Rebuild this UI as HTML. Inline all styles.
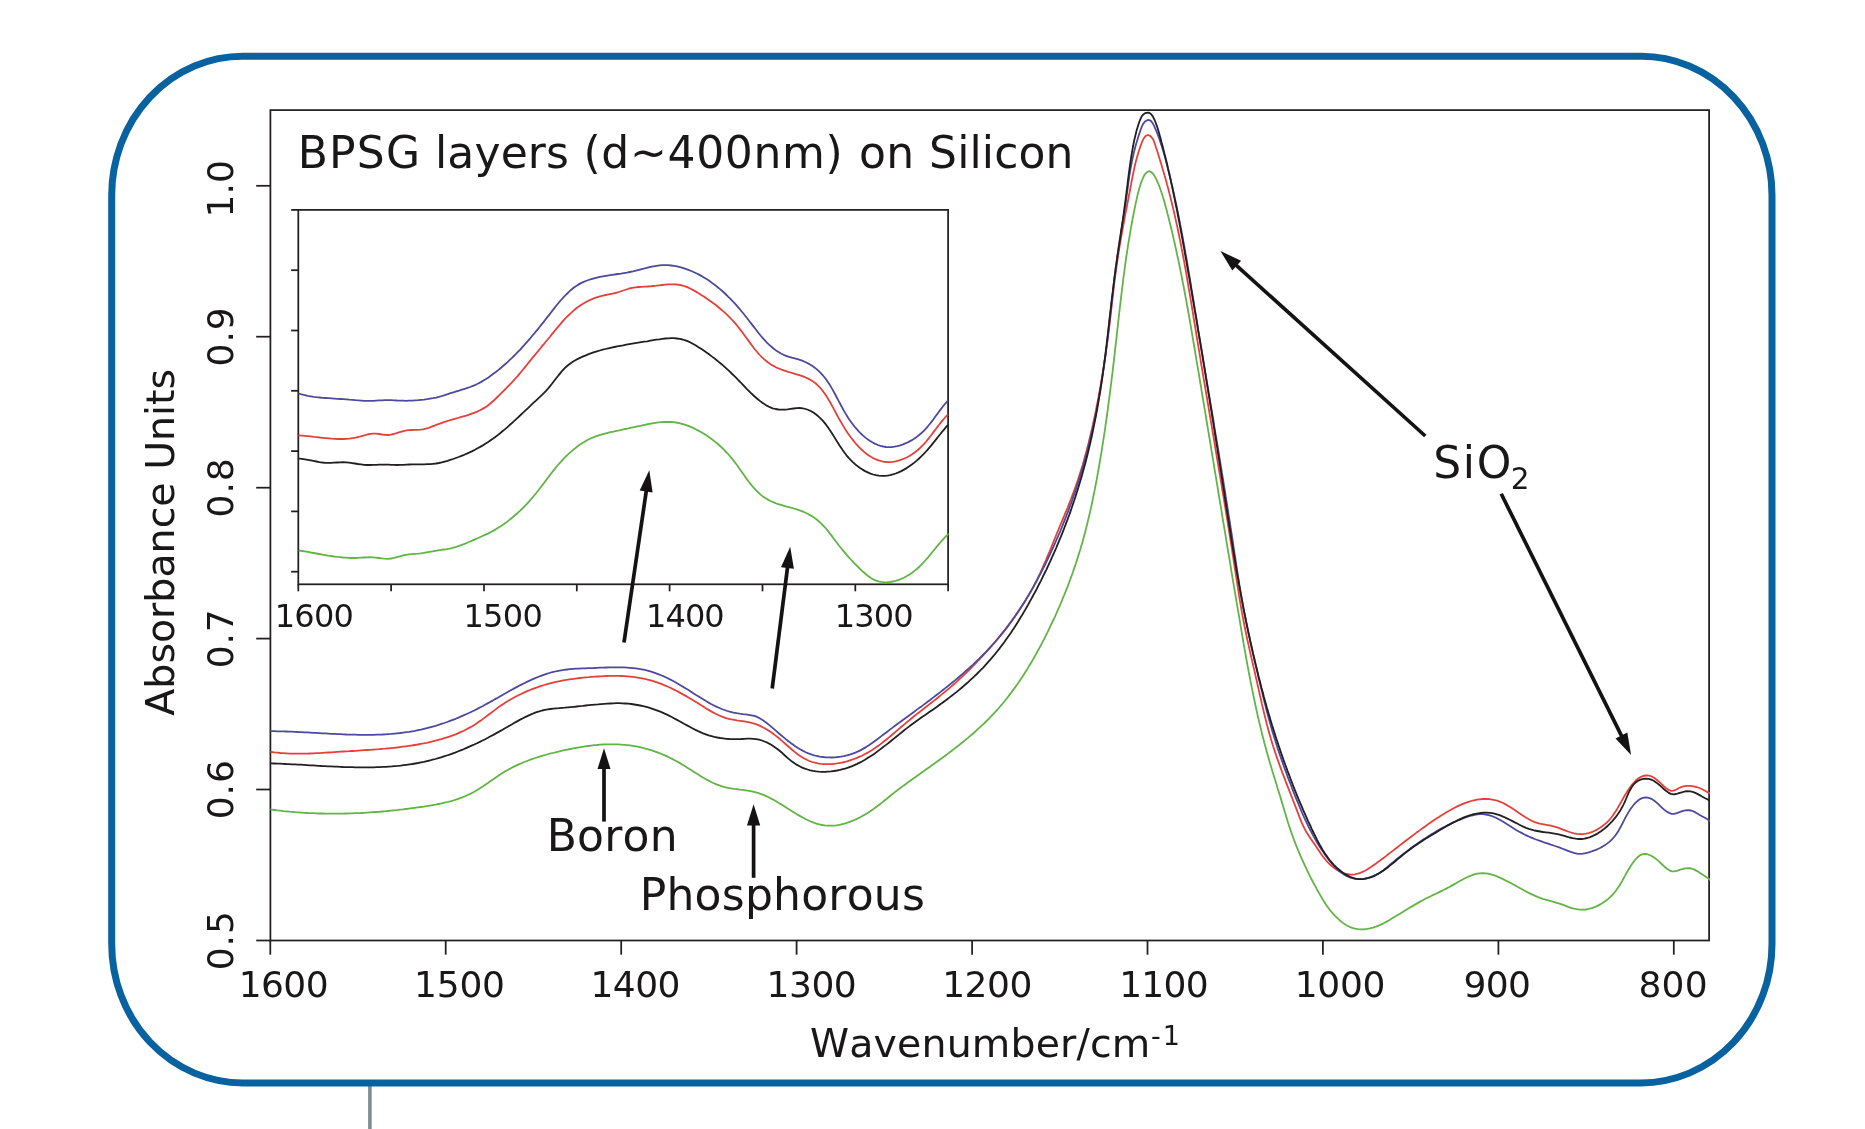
<!DOCTYPE html>
<html lang="en"><head><meta charset="utf-8"><title>BPSG layers on Silicon - IR absorbance</title>
<style>html,body{margin:0;padding:0;background:#fff;}body{width:1865px;height:1129px;overflow:hidden;}svg{display:block;will-change:transform;}text{font-family:"DejaVu Sans","Liberation Sans",sans-serif;fill:#1a1718;font-kerning:none;}</style></head><body>
<svg width="1865" height="1129" viewBox="0 0 1865 1129">
<rect width="1865" height="1129" fill="#fff"/>
<line x1="369.9" y1="1084" x2="369.9" y2="1129" stroke="#7f8c94" stroke-width="3.6"/>
<rect x="111.7" y="56.3" width="1660.3" height="1026.6" rx="131" ry="139" fill="none" stroke="#0862a0" stroke-width="7"/>
<defs><clipPath id="cm"><rect x="270.4" y="110.1" width="1439.6" height="830.4"/></clipPath><clipPath id="ci"><rect x="298.3" y="209.9" width="650.7" height="374.4"/></clipPath></defs>
<g stroke="#231f20" stroke-width="1.75" fill="none">
<rect x="270.4" y="110.1" width="1438.7" height="830.4"/>
<line x1="270.3" y1="940.5" x2="270.3" y2="954.7"/>
<line x1="445.7" y1="940.5" x2="445.7" y2="954.7"/>
<line x1="621.2" y1="940.5" x2="621.2" y2="954.7"/>
<line x1="796.6" y1="940.5" x2="796.6" y2="954.7"/>
<line x1="972.1" y1="940.5" x2="972.1" y2="954.7"/>
<line x1="1147.5" y1="940.5" x2="1147.5" y2="954.7"/>
<line x1="1322.9" y1="940.5" x2="1322.9" y2="954.7"/>
<line x1="1498.4" y1="940.5" x2="1498.4" y2="954.7"/>
<line x1="1673.8" y1="940.5" x2="1673.8" y2="954.7"/>
<line x1="256.2" y1="940.5" x2="270.4" y2="940.5"/>
<line x1="256.2" y1="789.5" x2="270.4" y2="789.5"/>
<line x1="256.2" y1="638.6" x2="270.4" y2="638.6"/>
<line x1="256.2" y1="487.7" x2="270.4" y2="487.7"/>
<line x1="256.2" y1="336.7" x2="270.4" y2="336.7"/>
<line x1="256.2" y1="185.8" x2="270.4" y2="185.8"/>
</g>
<g fill="none" stroke-width="1.8" stroke-linejoin="round" stroke-linecap="round" clip-path="url(#cm)">
<path stroke="#62b445" d="M268.4,809.2 L271.4,809.6 L274.4,810.0 L277.4,810.4 L280.4,810.7 L283.4,811.1 L286.3,811.4 L289.3,811.7 L292.3,811.9 L295.3,812.2 L298.3,812.4 L301.3,812.6 L304.3,812.8 L307.3,813.0 L310.3,813.1 L313.3,813.2 L316.3,813.4 L319.3,813.5 L322.2,813.5 L325.2,813.6 L328.2,813.6 L331.2,813.7 L334.2,813.7 L337.2,813.7 L340.2,813.6 L343.2,813.6 L346.1,813.5 L349.1,813.4 L352.1,813.3 L355.1,813.2 L358.1,813.1 L361.1,813.0 L364.1,812.8 L367.0,812.6 L370.0,812.4 L373.0,812.2 L376.0,812.0 L379.0,811.8 L382.0,811.5 L384.9,811.3 L387.9,811.0 L390.9,810.7 L393.9,810.4 L396.9,810.1 L399.9,809.7 L402.8,809.4 L405.8,809.0 L408.8,808.6 L411.8,808.2 L414.8,807.8 L417.8,807.4 L420.8,807.0 L423.7,806.6 L426.7,806.1 L429.7,805.6 L432.7,805.1 L435.6,804.6 L438.6,804.0 L441.5,803.4 L444.5,802.7 L447.4,802.0 L450.3,801.3 L453.1,800.5 L456.0,799.6 L458.8,798.6 L461.6,797.6 L464.4,796.5 L467.1,795.3 L469.8,794.1 L472.5,792.7 L475.1,791.3 L477.7,789.7 L480.3,788.1 L482.8,786.5 L485.3,784.7 L487.9,783.0 L490.4,781.2 L492.9,779.4 L495.4,777.7 L497.9,776.0 L500.4,774.3 L503.0,772.7 L505.6,771.1 L508.2,769.7 L510.8,768.2 L513.4,766.9 L516.1,765.6 L518.8,764.4 L521.5,763.2 L524.3,762.0 L527.0,761.0 L529.8,759.9 L532.6,758.9 L535.4,758.0 L538.2,757.1 L541.0,756.2 L543.9,755.3 L546.8,754.5 L549.7,753.7 L552.6,753.0 L555.5,752.3 L558.4,751.6 L561.3,750.9 L564.3,750.2 L567.2,749.6 L570.2,749.0 L573.2,748.4 L576.2,747.8 L579.2,747.3 L582.1,746.8 L585.1,746.4 L588.1,746.0 L591.1,745.6 L594.2,745.2 L597.2,745.0 L600.2,744.7 L603.2,744.5 L606.2,744.4 L609.2,744.3 L612.2,744.3 L615.2,744.3 L618.1,744.4 L621.1,744.6 L624.1,744.8 L627.0,745.1 L630.0,745.4 L632.9,745.8 L635.9,746.3 L638.8,746.9 L641.7,747.6 L644.6,748.3 L647.4,749.1 L650.3,749.9 L653.1,750.8 L656.0,751.8 L658.8,752.9 L661.5,754.0 L664.3,755.2 L667.1,756.4 L669.8,757.7 L672.5,759.1 L675.1,760.5 L677.8,761.9 L680.4,763.4 L683.0,765.0 L685.6,766.6 L688.1,768.2 L690.7,769.8 L693.2,771.4 L695.7,773.0 L698.3,774.6 L700.8,776.2 L703.4,777.7 L705.9,779.2 L708.5,780.6 L711.2,782.0 L713.8,783.2 L716.5,784.4 L719.3,785.4 L722.1,786.3 L724.9,787.1 L727.8,787.8 L730.8,788.3 L733.7,788.8 L736.8,789.2 L739.8,789.6 L742.8,789.9 L745.8,790.3 L748.9,790.8 L751.9,791.4 L754.8,792.1 L757.7,792.9 L760.6,793.8 L763.4,794.9 L766.2,796.1 L769.0,797.5 L771.7,798.9 L774.4,800.3 L777.1,801.9 L779.7,803.5 L782.4,805.1 L785.0,806.7 L787.6,808.4 L790.2,810.1 L792.8,811.7 L795.4,813.3 L798.0,814.9 L800.6,816.4 L803.2,817.8 L805.8,819.2 L808.5,820.5 L811.1,821.7 L813.8,822.7 L816.5,823.6 L819.3,824.4 L822.0,825.0 L824.8,825.4 L827.7,825.7 L830.6,825.7 L833.5,825.6 L836.4,825.3 L839.4,824.8 L842.3,824.1 L845.3,823.3 L848.2,822.4 L851.1,821.3 L854.0,820.2 L856.9,818.9 L859.7,817.5 L862.4,816.0 L865.1,814.5 L867.7,812.9 L870.2,811.3 L872.7,809.6 L875.1,807.8 L877.5,806.0 L879.9,804.2 L882.2,802.4 L884.5,800.5 L886.8,798.7 L889.1,796.8 L891.3,795.0 L893.6,793.1 L896.0,791.3 L898.3,789.5 L900.7,787.7 L903.1,785.9 L905.5,784.2 L907.9,782.4 L910.3,780.7 L912.7,779.0 L915.2,777.2 L917.6,775.5 L920.1,773.8 L922.5,772.0 L925.0,770.3 L927.4,768.5 L929.9,766.8 L932.3,765.0 L934.8,763.3 L937.2,761.5 L939.7,759.7 L942.1,758.0 L944.5,756.2 L947.0,754.4 L949.4,752.5 L951.8,750.7 L954.2,748.9 L956.5,747.0 L958.9,745.2 L961.3,743.3 L963.6,741.4 L965.9,739.5 L968.3,737.6 L970.5,735.6 L972.8,733.7 L975.1,731.7 L977.3,729.7 L979.5,727.7 L981.7,725.6 L983.9,723.6 L986.0,721.5 L988.2,719.4 L990.3,717.2 L992.3,715.1 L994.4,712.9 L996.4,710.7 L998.4,708.5 L1000.3,706.2 L1002.3,704.0 L1004.2,701.7 L1006.1,699.3 L1007.9,697.0 L1009.7,694.6 L1011.5,692.3 L1013.3,689.9 L1015.1,687.4 L1016.8,685.0 L1018.5,682.5 L1020.2,680.0 L1021.9,677.6 L1023.5,675.0 L1025.1,672.5 L1026.7,670.0 L1028.3,667.4 L1029.8,664.8 L1031.4,662.2 L1032.9,659.6 L1034.4,657.0 L1035.9,654.4 L1037.3,651.8 L1038.8,649.1 L1040.2,646.5 L1041.6,643.8 L1043.0,641.1 L1044.4,638.5 L1045.7,635.8 L1047.1,633.1 L1048.4,630.4 L1049.7,627.7 L1051.0,624.9 L1052.3,622.2 L1053.6,619.5 L1054.9,616.8 L1056.1,614.0 L1057.3,611.3 L1058.5,608.5 L1059.7,605.8 L1060.9,603.0 L1062.1,600.2 L1063.2,597.4 L1064.4,594.7 L1065.5,591.9 L1066.6,589.1 L1067.7,586.3 L1068.7,583.5 L1069.8,580.7 L1070.8,577.9 L1071.9,575.0 L1072.9,572.2 L1073.8,569.4 L1074.8,566.5 L1075.8,563.7 L1076.7,560.9 L1077.6,558.0 L1078.5,555.2 L1079.4,552.3 L1080.3,549.4 L1081.1,546.6 L1082.0,543.7 L1082.8,540.8 L1083.6,538.0 L1084.4,535.1 L1085.1,532.2 L1085.9,529.3 L1086.6,526.4 L1087.3,523.5 L1088.0,520.6 L1088.7,517.7 L1089.4,514.8 L1090.1,511.9 L1090.7,509.0 L1091.4,506.1 L1092.0,503.1 L1092.6,500.2 L1093.2,497.3 L1093.8,494.3 L1094.4,491.4 L1095.0,488.5 L1095.5,485.5 L1096.1,482.6 L1096.7,479.7 L1097.2,476.7 L1097.7,473.8 L1098.3,470.8 L1098.8,467.9 L1099.3,464.9 L1099.8,461.9 L1100.3,459.0 L1100.8,456.0 L1101.3,453.1 L1101.8,450.1 L1102.2,447.1 L1102.7,444.2 L1103.2,441.2 L1103.6,438.2 L1104.1,435.2 L1104.5,432.3 L1105.0,429.3 L1105.4,426.3 L1105.8,423.3 L1106.3,420.3 L1106.7,417.4 L1107.1,414.4 L1107.5,411.4 L1107.9,408.4 L1108.3,405.4 L1108.7,402.4 L1109.1,399.5 L1109.5,396.5 L1109.9,393.5 L1110.3,390.5 L1110.6,387.5 L1111.0,384.5 L1111.4,381.5 L1111.7,378.6 L1112.1,375.6 L1112.5,372.6 L1112.8,369.6 L1113.2,366.6 L1113.5,363.6 L1113.9,360.6 L1114.2,357.7 L1114.6,354.7 L1114.9,351.7 L1115.2,348.7 L1115.6,345.7 L1115.9,342.7 L1116.3,339.8 L1116.6,336.8 L1116.9,333.8 L1117.2,330.8 L1117.6,327.9 L1117.9,324.9 L1118.2,321.9 L1118.6,318.9 L1118.9,316.0 L1119.2,313.0 L1119.6,310.0 L1119.9,307.0 L1120.3,304.1 L1120.6,301.1 L1121.0,298.1 L1121.3,295.2 L1121.7,292.2 L1122.0,289.2 L1122.4,286.3 L1122.8,283.3 L1123.1,280.4 L1123.5,277.4 L1123.9,274.4 L1124.3,271.5 L1124.7,268.5 L1125.1,265.6 L1125.5,262.6 L1125.9,259.7 L1126.3,256.7 L1126.8,253.8 L1127.2,250.8 L1127.7,247.9 L1128.1,244.9 L1128.6,242.0 L1129.1,239.0 L1129.6,236.1 L1130.1,233.1 L1130.6,230.1 L1131.1,227.2 L1131.6,224.2 L1132.2,221.3 L1132.7,218.3 L1133.3,215.3 L1133.9,212.4 L1134.5,209.4 L1135.1,206.4 L1135.7,203.4 L1136.4,200.4 L1137.0,197.4 L1137.7,194.5 L1138.5,191.5 L1139.3,188.6 L1140.1,185.7 L1141.0,182.9 L1142.1,180.2 L1143.2,177.5 L1144.5,174.9 L1146.5,172.5 L1149.0,171.2 L1151.5,172.1 L1153.6,174.5 L1155.3,177.4 L1156.7,180.1 L1157.9,182.8 L1159.0,185.5 L1160.0,188.2 L1161.0,191.0 L1161.9,193.8 L1162.8,196.6 L1163.7,199.5 L1164.5,202.3 L1165.3,205.2 L1166.1,208.2 L1166.9,211.1 L1167.6,214.0 L1168.4,217.0 L1169.1,219.9 L1169.8,222.8 L1170.6,225.7 L1171.3,228.7 L1172.0,231.6 L1172.7,234.5 L1173.3,237.5 L1174.0,240.4 L1174.7,243.3 L1175.3,246.3 L1176.0,249.2 L1176.6,252.1 L1177.2,255.1 L1177.9,258.0 L1178.5,260.9 L1179.1,263.8 L1179.7,266.8 L1180.3,269.7 L1180.9,272.7 L1181.5,275.6 L1182.1,278.5 L1182.6,281.5 L1183.2,284.4 L1183.8,287.4 L1184.3,290.3 L1184.9,293.2 L1185.4,296.2 L1186.0,299.1 L1186.5,302.1 L1187.0,305.0 L1187.6,308.0 L1188.1,311.0 L1188.6,313.9 L1189.2,316.9 L1189.7,319.8 L1190.2,322.8 L1190.7,325.7 L1191.2,328.7 L1191.7,331.7 L1192.2,334.6 L1192.7,337.6 L1193.2,340.6 L1193.7,343.5 L1194.2,346.5 L1194.7,349.4 L1195.2,352.4 L1195.7,355.4 L1196.2,358.3 L1196.7,361.3 L1197.2,364.3 L1197.7,367.2 L1198.2,370.2 L1198.7,373.1 L1199.2,376.1 L1199.7,379.1 L1200.2,382.0 L1200.7,385.0 L1201.2,387.9 L1201.6,390.9 L1202.1,393.9 L1202.6,396.8 L1203.1,399.8 L1203.6,402.7 L1204.1,405.7 L1204.6,408.7 L1205.1,411.6 L1205.6,414.6 L1206.1,417.5 L1206.5,420.5 L1207.0,423.5 L1207.5,426.4 L1208.0,429.4 L1208.5,432.3 L1209.0,435.3 L1209.5,438.2 L1210.0,441.2 L1210.5,444.2 L1210.9,447.1 L1211.4,450.1 L1211.9,453.0 L1212.4,456.0 L1212.9,458.9 L1213.4,461.9 L1213.9,464.9 L1214.4,467.8 L1214.8,470.8 L1215.3,473.7 L1215.8,476.7 L1216.3,479.6 L1216.8,482.6 L1217.3,485.5 L1217.8,488.5 L1218.2,491.5 L1218.7,494.4 L1219.2,497.4 L1219.7,500.3 L1220.2,503.3 L1220.7,506.2 L1221.2,509.2 L1221.7,512.2 L1222.1,515.1 L1222.6,518.1 L1223.1,521.0 L1223.6,524.0 L1224.1,526.9 L1224.6,529.9 L1225.1,532.8 L1225.6,535.8 L1226.1,538.8 L1226.5,541.7 L1227.0,544.7 L1227.5,547.6 L1228.0,550.6 L1228.5,553.5 L1229.0,556.5 L1229.5,559.5 L1230.0,562.4 L1230.5,565.4 L1231.0,568.3 L1231.4,571.3 L1231.9,574.2 L1232.4,577.2 L1232.9,580.2 L1233.4,583.1 L1233.9,586.1 L1234.4,589.0 L1234.9,592.0 L1235.4,595.0 L1235.9,597.9 L1236.4,600.9 L1236.9,603.8 L1237.4,606.8 L1237.9,609.8 L1238.4,612.7 L1238.9,615.7 L1239.4,618.6 L1239.9,621.6 L1240.4,624.6 L1240.9,627.5 L1241.4,630.5 L1241.9,633.4 L1242.4,636.4 L1242.9,639.4 L1243.4,642.3 L1243.9,645.3 L1244.4,648.2 L1245.0,651.2 L1245.5,654.2 L1246.0,657.1 L1246.6,660.1 L1247.1,663.0 L1247.6,666.0 L1248.2,668.9 L1248.7,671.9 L1249.3,674.8 L1249.9,677.8 L1250.4,680.7 L1251.0,683.7 L1251.6,686.6 L1252.2,689.6 L1252.8,692.5 L1253.4,695.5 L1254.0,698.4 L1254.6,701.3 L1255.2,704.3 L1255.9,707.2 L1256.5,710.2 L1257.2,713.1 L1257.8,716.0 L1258.5,718.9 L1259.2,721.9 L1259.9,724.8 L1260.6,727.7 L1261.3,730.6 L1262.0,733.6 L1262.7,736.5 L1263.5,739.4 L1264.2,742.3 L1265.0,745.2 L1265.8,748.1 L1266.6,751.0 L1267.4,753.9 L1268.2,756.8 L1269.0,759.7 L1269.8,762.6 L1270.7,765.5 L1271.6,768.4 L1272.4,771.2 L1273.3,774.1 L1274.2,777.0 L1275.1,779.9 L1276.0,782.7 L1276.9,785.6 L1277.7,788.5 L1278.6,791.3 L1279.5,794.2 L1280.4,797.0 L1281.2,799.9 L1282.1,802.7 L1282.9,805.5 L1283.8,808.4 L1284.6,811.2 L1285.5,814.0 L1286.3,816.9 L1287.2,819.7 L1288.0,822.5 L1288.9,825.3 L1289.9,828.1 L1290.8,830.9 L1291.8,833.7 L1292.8,836.5 L1293.8,839.3 L1294.9,842.1 L1295.9,844.8 L1297.0,847.6 L1298.2,850.4 L1299.3,853.2 L1300.5,855.9 L1301.7,858.7 L1303.0,861.4 L1304.2,864.2 L1305.5,866.9 L1306.8,869.6 L1308.1,872.3 L1309.5,875.1 L1310.8,877.8 L1312.2,880.5 L1313.6,883.2 L1315.1,885.9 L1316.5,888.6 L1318.0,891.3 L1319.5,893.9 L1321.1,896.6 L1322.6,899.2 L1324.2,901.8 L1325.9,904.4 L1327.6,906.9 L1329.4,909.3 L1331.3,911.7 L1333.2,913.9 L1335.3,916.1 L1337.4,918.2 L1339.6,920.2 L1341.9,922.1 L1344.3,923.9 L1346.9,925.5 L1349.5,926.8 L1352.2,927.9 L1355.0,928.7 L1357.9,929.2 L1360.9,929.4 L1363.9,929.3 L1366.9,928.9 L1369.9,928.4 L1372.8,927.6 L1375.8,926.7 L1378.6,925.6 L1381.4,924.4 L1384.1,923.0 L1386.7,921.6 L1389.2,920.2 L1391.8,918.6 L1394.3,917.1 L1396.9,915.5 L1399.5,914.0 L1402.0,912.4 L1404.6,910.8 L1407.2,909.2 L1409.8,907.6 L1412.4,906.1 L1415.0,904.6 L1417.6,903.1 L1420.2,901.6 L1422.8,900.2 L1425.4,898.8 L1428.0,897.5 L1430.7,896.2 L1433.3,894.9 L1436.0,893.7 L1438.7,892.4 L1441.3,891.1 L1444.0,889.8 L1446.7,888.4 L1449.4,887.0 L1452.2,885.4 L1454.9,883.9 L1457.6,882.3 L1460.4,880.7 L1463.1,879.2 L1465.9,877.8 L1468.7,876.5 L1471.5,875.3 L1474.2,874.4 L1477.0,873.7 L1479.8,873.3 L1482.6,873.1 L1485.4,873.3 L1488.1,873.7 L1490.9,874.3 L1493.7,875.2 L1496.5,876.2 L1499.2,877.3 L1502.0,878.6 L1504.7,880.0 L1507.5,881.4 L1510.2,882.8 L1512.9,884.3 L1515.6,885.8 L1518.4,887.3 L1521.1,888.8 L1523.8,890.3 L1526.5,891.7 L1529.2,893.1 L1531.9,894.4 L1534.6,895.6 L1537.4,896.8 L1540.1,897.8 L1542.8,898.8 L1545.6,899.6 L1548.3,900.4 L1551.1,901.2 L1553.9,901.9 L1556.7,902.8 L1559.5,903.7 L1562.4,904.7 L1565.2,905.7 L1568.1,906.8 L1571.0,907.8 L1573.9,908.6 L1576.8,909.2 L1579.8,909.6 L1582.8,909.7 L1585.8,909.5 L1588.7,908.9 L1591.7,908.2 L1594.6,907.1 L1597.5,905.9 L1600.2,904.4 L1602.9,902.8 L1605.5,901.0 L1607.9,899.1 L1610.2,897.1 L1612.3,895.0 L1614.2,892.8 L1616.0,890.6 L1617.6,888.3 L1619.2,886.0 L1620.7,883.5 L1622.1,881.1 L1623.5,878.5 L1625.0,875.9 L1626.4,873.2 L1628.0,870.5 L1629.7,867.7 L1631.4,864.9 L1633.4,862.1 L1635.4,859.5 L1637.5,857.3 L1639.8,855.5 L1642.1,854.4 L1644.5,854.0 L1647.0,854.2 L1649.6,855.0 L1652.1,856.3 L1654.7,857.9 L1657.2,859.9 L1659.7,862.2 L1662.1,864.5 L1664.5,866.7 L1666.9,868.8 L1669.4,870.3 L1671.8,871.3 L1674.4,871.4 L1677.0,870.8 L1679.7,869.9 L1682.5,869.0 L1685.4,868.4 L1688.4,868.1 L1691.4,868.5 L1694.3,869.6 L1697.2,871.1 L1700.0,872.9 L1702.7,874.7 L1705.2,876.3 L1707.6,877.9 L1709.7,879.5 L1711.0,880.7"/>
<path stroke="#e6403a" d="M268.4,751.6 L271.4,752.0 L274.4,752.4 L277.4,752.7 L280.4,753.0 L283.4,753.2 L286.4,753.4 L289.4,753.6 L292.4,753.6 L295.4,753.7 L298.4,753.7 L301.3,753.7 L304.3,753.7 L307.3,753.6 L310.3,753.5 L313.3,753.4 L316.3,753.2 L319.3,753.1 L322.3,752.9 L325.3,752.7 L328.3,752.5 L331.3,752.3 L334.3,752.1 L337.3,751.9 L340.3,751.7 L343.2,751.5 L346.2,751.3 L349.2,751.2 L352.2,751.0 L355.2,750.8 L358.2,750.6 L361.2,750.4 L364.1,750.2 L367.1,750.0 L370.1,749.8 L373.1,749.6 L376.1,749.4 L379.1,749.2 L382.0,748.9 L385.0,748.7 L388.0,748.4 L391.0,748.1 L393.9,747.8 L396.9,747.5 L399.9,747.1 L402.9,746.7 L405.8,746.3 L408.8,745.9 L411.8,745.5 L414.8,745.0 L417.7,744.5 L420.7,743.9 L423.7,743.4 L426.6,742.8 L429.6,742.1 L432.6,741.4 L435.5,740.7 L438.4,739.9 L441.3,739.1 L444.2,738.2 L447.1,737.3 L450.0,736.4 L452.8,735.3 L455.6,734.3 L458.4,733.1 L461.1,731.9 L463.8,730.7 L466.5,729.3 L469.1,727.9 L471.7,726.5 L474.3,724.9 L476.8,723.3 L479.2,721.6 L481.7,719.9 L484.1,718.1 L486.5,716.3 L488.8,714.5 L491.2,712.7 L493.6,710.9 L496.0,709.1 L498.4,707.3 L500.9,705.6 L503.4,703.9 L505.9,702.3 L508.4,700.7 L511.0,699.2 L513.7,697.8 L516.3,696.3 L519.0,695.0 L521.7,693.7 L524.4,692.4 L527.2,691.2 L530.0,690.0 L532.8,688.9 L535.6,687.9 L538.5,686.9 L541.4,685.9 L544.3,685.0 L547.2,684.2 L550.1,683.4 L553.0,682.6 L556.0,681.9 L558.9,681.3 L561.9,680.7 L564.9,680.2 L567.9,679.7 L570.9,679.2 L573.9,678.8 L576.9,678.4 L579.9,678.0 L582.9,677.7 L585.9,677.4 L588.9,677.2 L591.9,676.9 L594.9,676.7 L597.9,676.5 L600.8,676.3 L603.8,676.1 L606.8,676.0 L609.8,675.9 L612.7,675.9 L615.7,675.9 L618.6,675.9 L621.6,676.0 L624.5,676.1 L627.4,676.3 L630.4,676.6 L633.3,676.9 L636.2,677.3 L639.1,677.8 L642.0,678.3 L644.8,678.9 L647.7,679.6 L650.6,680.3 L653.4,681.2 L656.2,682.1 L659.1,683.1 L661.9,684.2 L664.7,685.3 L667.5,686.5 L670.3,687.8 L673.0,689.1 L675.8,690.5 L678.5,691.9 L681.2,693.4 L683.9,694.9 L686.6,696.4 L689.3,698.0 L692.0,699.6 L694.6,701.2 L697.3,702.8 L699.9,704.5 L702.5,706.1 L705.1,707.8 L707.7,709.4 L710.3,710.9 L712.9,712.4 L715.5,713.7 L718.2,715.0 L720.8,716.2 L723.4,717.2 L726.1,718.1 L728.8,718.8 L731.5,719.4 L734.3,719.9 L737.0,720.4 L739.9,720.8 L742.7,721.2 L745.6,721.7 L748.5,722.2 L751.4,722.9 L754.3,723.7 L757.2,724.7 L760.0,725.9 L762.8,727.3 L765.6,728.8 L768.3,730.4 L770.9,732.1 L773.5,734.0 L776.0,735.9 L778.4,737.8 L780.8,739.9 L783.1,741.9 L785.5,744.0 L787.8,746.0 L790.1,748.0 L792.4,750.0 L794.7,751.9 L797.0,753.7 L799.4,755.4 L801.8,757.0 L804.3,758.5 L806.8,759.8 L809.4,761.0 L812.1,762.0 L814.9,762.7 L817.7,763.4 L820.6,763.8 L823.5,764.1 L826.5,764.2 L829.5,764.2 L832.6,764.0 L835.6,763.7 L838.7,763.2 L841.7,762.6 L844.7,762.0 L847.7,761.2 L850.7,760.2 L853.6,759.2 L856.4,758.1 L859.2,756.9 L861.9,755.7 L864.6,754.3 L867.2,752.9 L869.7,751.4 L872.2,749.9 L874.7,748.3 L877.1,746.6 L879.5,744.9 L881.8,743.1 L884.1,741.3 L886.4,739.5 L888.7,737.6 L891.0,735.7 L893.2,733.8 L895.5,731.9 L897.8,729.9 L900.0,728.0 L902.3,726.0 L904.6,724.1 L906.9,722.1 L909.3,720.2 L911.7,718.2 L914.0,716.3 L916.4,714.4 L918.9,712.5 L921.3,710.6 L923.7,708.7 L926.2,706.8 L928.6,704.9 L931.0,703.0 L933.4,701.1 L935.9,699.2 L938.2,697.3 L940.6,695.4 L943.0,693.4 L945.3,691.5 L947.6,689.6 L949.9,687.7 L952.1,685.7 L954.4,683.8 L956.6,681.8 L958.7,679.9 L960.9,677.9 L963.0,675.9 L965.1,673.9 L967.2,671.9 L969.3,669.8 L971.3,667.8 L973.4,665.7 L975.4,663.6 L977.4,661.5 L979.4,659.4 L981.4,657.2 L983.4,655.1 L985.4,652.9 L987.4,650.6 L989.4,648.4 L991.4,646.1 L993.3,643.8 L995.3,641.5 L997.2,639.2 L999.2,636.8 L1001.1,634.5 L1003.0,632.1 L1004.9,629.7 L1006.8,627.2 L1008.6,624.8 L1010.5,622.3 L1012.3,619.9 L1014.1,617.4 L1015.8,614.9 L1017.6,612.4 L1019.3,609.8 L1021.0,607.3 L1022.7,604.7 L1024.3,602.2 L1025.9,599.6 L1027.5,597.0 L1029.0,594.4 L1030.6,591.8 L1032.0,589.1 L1033.5,586.5 L1034.9,583.9 L1036.2,581.2 L1037.6,578.6 L1038.8,575.9 L1040.1,573.3 L1041.3,570.6 L1042.6,567.9 L1043.7,565.2 L1044.9,562.5 L1046.1,559.8 L1047.2,557.1 L1048.3,554.4 L1049.5,551.7 L1050.6,549.0 L1051.7,546.3 L1052.8,543.5 L1053.9,540.8 L1055.0,538.0 L1056.1,535.3 L1057.2,532.5 L1058.4,529.8 L1059.5,527.0 L1060.7,524.2 L1061.9,521.4 L1063.0,518.7 L1064.2,515.9 L1065.3,513.1 L1066.5,510.3 L1067.7,507.5 L1068.8,504.6 L1069.9,501.8 L1071.0,499.0 L1072.1,496.2 L1073.2,493.3 L1074.2,490.5 L1075.2,487.7 L1076.2,484.8 L1077.2,482.0 L1078.2,479.1 L1079.1,476.3 L1080.0,473.4 L1080.9,470.5 L1081.8,467.7 L1082.7,464.8 L1083.5,461.9 L1084.3,459.0 L1085.1,456.1 L1085.9,453.2 L1086.7,450.3 L1087.4,447.4 L1088.2,444.5 L1088.9,441.6 L1089.6,438.7 L1090.3,435.8 L1091.0,432.9 L1091.7,430.0 L1092.3,427.1 L1093.0,424.2 L1093.6,421.2 L1094.2,418.3 L1094.9,415.4 L1095.5,412.4 L1096.1,409.5 L1096.6,406.6 L1097.2,403.6 L1097.8,400.7 L1098.4,397.7 L1098.9,394.8 L1099.5,391.8 L1100.0,388.9 L1100.5,385.9 L1101.0,383.0 L1101.5,380.0 L1102.0,377.1 L1102.5,374.1 L1103.0,371.1 L1103.5,368.2 L1104.0,365.2 L1104.4,362.3 L1104.9,359.3 L1105.3,356.3 L1105.8,353.3 L1106.2,350.4 L1106.6,347.4 L1107.0,344.4 L1107.4,341.5 L1107.8,338.5 L1108.2,335.5 L1108.6,332.5 L1108.9,329.6 L1109.3,326.6 L1109.7,323.6 L1110.0,320.6 L1110.4,317.7 L1110.7,314.7 L1111.0,311.7 L1111.4,308.7 L1111.7,305.8 L1112.0,302.8 L1112.4,299.8 L1112.7,296.8 L1113.1,293.9 L1113.4,290.9 L1113.7,287.9 L1114.1,285.0 L1114.5,282.0 L1114.8,279.0 L1115.2,276.0 L1115.6,273.1 L1116.0,270.1 L1116.4,267.1 L1116.8,264.2 L1117.3,261.2 L1117.7,258.3 L1118.2,255.3 L1118.6,252.3 L1119.1,249.4 L1119.6,246.4 L1120.1,243.5 L1120.6,240.5 L1121.1,237.5 L1121.6,234.6 L1122.2,231.6 L1122.7,228.7 L1123.2,225.7 L1123.8,222.8 L1124.3,219.8 L1124.9,216.9 L1125.4,213.9 L1126.0,211.0 L1126.6,208.0 L1127.1,205.1 L1127.7,202.1 L1128.3,199.1 L1128.8,196.2 L1129.4,193.2 L1130.0,190.3 L1130.5,187.3 L1131.1,184.4 L1131.6,181.4 L1132.2,178.4 L1132.8,175.5 L1133.4,172.5 L1134.0,169.6 L1134.6,166.7 L1135.3,163.8 L1136.0,160.9 L1136.8,158.1 L1137.6,155.2 L1138.4,152.4 L1139.4,149.5 L1140.4,146.5 L1141.4,143.5 L1142.6,140.6 L1144.1,137.9 L1146.0,135.7 L1148.4,135.0 L1150.8,136.4 L1152.7,138.7 L1154.0,141.4 L1155.0,144.3 L1155.9,147.2 L1156.9,150.1 L1157.8,153.0 L1158.7,155.9 L1159.6,158.8 L1160.5,161.7 L1161.4,164.6 L1162.2,167.5 L1163.1,170.4 L1163.9,173.2 L1164.7,176.1 L1165.6,179.0 L1166.4,181.9 L1167.1,184.7 L1167.9,187.6 L1168.7,190.5 L1169.4,193.4 L1170.2,196.3 L1170.9,199.2 L1171.6,202.1 L1172.3,205.0 L1173.0,207.9 L1173.7,210.8 L1174.4,213.7 L1175.0,216.6 L1175.7,219.6 L1176.3,222.5 L1177.0,225.4 L1177.6,228.3 L1178.2,231.3 L1178.8,234.2 L1179.4,237.1 L1180.0,240.1 L1180.6,243.0 L1181.2,246.0 L1181.7,248.9 L1182.3,251.9 L1182.9,254.8 L1183.4,257.8 L1184.0,260.7 L1184.5,263.7 L1185.0,266.6 L1185.6,269.6 L1186.1,272.5 L1186.6,275.5 L1187.1,278.5 L1187.6,281.4 L1188.1,284.4 L1188.6,287.3 L1189.1,290.3 L1189.6,293.3 L1190.1,296.2 L1190.6,299.2 L1191.1,302.2 L1191.6,305.1 L1192.1,308.1 L1192.6,311.1 L1193.1,314.0 L1193.5,317.0 L1194.0,320.0 L1194.5,322.9 L1195.0,325.9 L1195.5,328.9 L1196.0,331.9 L1196.4,334.8 L1196.9,337.8 L1197.4,340.8 L1197.9,343.7 L1198.4,346.7 L1198.9,349.6 L1199.4,352.6 L1199.9,355.6 L1200.4,358.5 L1200.8,361.5 L1201.3,364.5 L1201.8,367.4 L1202.3,370.4 L1202.8,373.4 L1203.3,376.3 L1203.8,379.3 L1204.3,382.2 L1204.8,385.2 L1205.3,388.2 L1205.8,391.1 L1206.3,394.1 L1206.8,397.0 L1207.3,400.0 L1207.8,403.0 L1208.3,405.9 L1208.8,408.9 L1209.3,411.8 L1209.8,414.8 L1210.3,417.8 L1210.8,420.7 L1211.3,423.7 L1211.8,426.6 L1212.3,429.6 L1212.8,432.5 L1213.3,435.5 L1213.8,438.5 L1214.3,441.4 L1214.8,444.4 L1215.2,447.3 L1215.7,450.3 L1216.2,453.2 L1216.7,456.2 L1217.2,459.1 L1217.7,462.1 L1218.2,465.1 L1218.7,468.0 L1219.2,471.0 L1219.7,473.9 L1220.2,476.9 L1220.7,479.8 L1221.2,482.8 L1221.7,485.8 L1222.1,488.7 L1222.6,491.7 L1223.1,494.6 L1223.6,497.6 L1224.1,500.5 L1224.6,503.5 L1225.1,506.4 L1225.5,509.4 L1226.0,512.4 L1226.5,515.3 L1227.0,518.3 L1227.5,521.2 L1227.9,524.2 L1228.4,527.1 L1228.9,530.1 L1229.4,533.1 L1229.8,536.0 L1230.3,539.0 L1230.8,541.9 L1231.2,544.9 L1231.7,547.8 L1232.2,550.8 L1232.6,553.8 L1233.1,556.7 L1233.5,559.7 L1234.0,562.6 L1234.5,565.6 L1234.9,568.6 L1235.4,571.5 L1235.8,574.5 L1236.3,577.4 L1236.7,580.4 L1237.2,583.4 L1237.6,586.3 L1238.1,589.3 L1238.6,592.2 L1239.0,595.2 L1239.5,598.1 L1240.0,601.1 L1240.5,604.1 L1241.0,607.0 L1241.5,610.0 L1242.0,612.9 L1242.6,615.9 L1243.1,618.8 L1243.7,621.8 L1244.3,624.8 L1244.9,627.7 L1245.5,630.7 L1246.1,633.6 L1246.7,636.6 L1247.3,639.5 L1248.0,642.5 L1248.6,645.4 L1249.3,648.3 L1249.9,651.3 L1250.6,654.2 L1251.3,657.2 L1252.0,660.1 L1252.6,663.0 L1253.3,666.0 L1254.0,668.9 L1254.7,671.8 L1255.3,674.8 L1256.0,677.7 L1256.7,680.6 L1257.3,683.5 L1258.0,686.5 L1258.6,689.4 L1259.3,692.3 L1259.9,695.2 L1260.6,698.1 L1261.3,701.0 L1261.9,703.9 L1262.6,706.9 L1263.3,709.8 L1264.0,712.7 L1264.7,715.5 L1265.4,718.4 L1266.1,721.3 L1266.8,724.2 L1267.6,727.1 L1268.4,730.0 L1269.2,732.9 L1270.0,735.7 L1270.8,738.6 L1271.7,741.5 L1272.5,744.3 L1273.5,747.2 L1274.4,750.1 L1275.3,752.9 L1276.3,755.8 L1277.3,758.6 L1278.3,761.5 L1279.3,764.3 L1280.3,767.1 L1281.4,770.0 L1282.4,772.8 L1283.5,775.6 L1284.6,778.4 L1285.6,781.3 L1286.7,784.1 L1287.8,786.9 L1288.9,789.7 L1290.0,792.5 L1291.1,795.3 L1292.2,798.0 L1293.2,800.8 L1294.3,803.6 L1295.4,806.4 L1296.5,809.1 L1297.5,811.9 L1298.6,814.7 L1299.6,817.4 L1300.7,820.2 L1301.8,822.9 L1303.1,825.6 L1304.4,828.3 L1305.8,831.0 L1307.4,833.6 L1309.1,836.2 L1310.8,838.8 L1312.6,841.4 L1314.4,843.9 L1316.1,846.4 L1317.7,848.9 L1319.3,851.3 L1320.9,853.7 L1322.5,856.0 L1324.3,858.3 L1326.1,860.5 L1328.1,862.7 L1330.3,864.8 L1332.7,866.8 L1335.3,868.7 L1337.9,870.4 L1340.7,871.9 L1343.6,873.1 L1346.4,874.0 L1349.3,874.5 L1352.1,874.6 L1354.9,874.3 L1357.7,873.7 L1360.4,872.8 L1363.1,871.7 L1365.8,870.3 L1368.4,868.7 L1371.0,867.0 L1373.5,865.2 L1376.1,863.4 L1378.6,861.6 L1381.0,859.7 L1383.5,857.9 L1385.9,856.1 L1388.3,854.2 L1390.7,852.4 L1393.1,850.6 L1395.4,848.8 L1397.8,847.0 L1400.1,845.1 L1402.5,843.3 L1404.8,841.5 L1407.1,839.7 L1409.5,838.0 L1411.8,836.2 L1414.2,834.4 L1416.5,832.6 L1418.9,830.9 L1421.3,829.1 L1423.7,827.4 L1426.1,825.7 L1428.5,823.9 L1431.0,822.2 L1433.5,820.5 L1436.0,818.8 L1438.6,817.2 L1441.2,815.5 L1443.8,813.9 L1446.5,812.2 L1449.2,810.7 L1451.9,809.2 L1454.6,807.7 L1457.3,806.4 L1460.1,805.1 L1462.9,803.9 L1465.6,802.8 L1468.4,801.9 L1471.2,801.0 L1474.1,800.3 L1476.9,799.7 L1479.7,799.3 L1482.5,799.0 L1485.3,798.9 L1488.1,799.0 L1490.9,799.3 L1493.7,799.8 L1496.5,800.5 L1499.2,801.4 L1502.0,802.5 L1504.7,803.9 L1507.4,805.4 L1510.1,807.0 L1512.8,808.8 L1515.5,810.6 L1518.2,812.4 L1520.9,814.3 L1523.5,816.0 L1526.2,817.7 L1528.9,819.3 L1531.6,820.7 L1534.3,821.9 L1537.0,822.8 L1539.7,823.6 L1542.5,824.2 L1545.2,824.7 L1548.0,825.1 L1550.8,825.7 L1553.6,826.3 L1556.4,827.2 L1559.3,828.2 L1562.2,829.3 L1565.1,830.4 L1568.0,831.5 L1571.0,832.5 L1573.9,833.3 L1576.9,833.9 L1579.9,834.2 L1582.9,834.1 L1585.8,833.7 L1588.7,833.1 L1591.6,832.2 L1594.4,831.0 L1597.1,829.6 L1599.7,828.0 L1602.2,826.3 L1604.6,824.4 L1606.9,822.4 L1609.0,820.3 L1610.9,818.0 L1612.7,815.7 L1614.3,813.3 L1615.9,810.9 L1617.5,808.4 L1618.9,805.9 L1620.4,803.3 L1621.9,800.6 L1623.4,798.0 L1624.9,795.3 L1626.5,792.7 L1628.2,790.0 L1630.0,787.4 L1631.8,784.8 L1633.9,782.5 L1636.0,780.3 L1638.2,778.5 L1640.6,777.1 L1643.1,776.0 L1645.7,775.5 L1648.3,775.5 L1651.0,776.2 L1653.7,777.5 L1656.4,779.5 L1659.0,781.7 L1661.6,784.1 L1664.0,786.5 L1666.5,788.5 L1668.9,790.1 L1671.3,790.8 L1673.8,790.6 L1676.3,789.5 L1679.0,788.0 L1681.7,786.9 L1684.6,786.1 L1687.5,785.8 L1690.5,785.9 L1693.5,786.3 L1696.5,787.0 L1699.4,788.0 L1702.2,789.3 L1705.0,790.8 L1707.6,792.2 L1710.1,793.5 L1711.0,794.0"/>
<path stroke="#4c4a9c" d="M268.4,731.2 L271.4,731.2 L274.3,731.2 L277.3,731.3 L280.3,731.3 L283.3,731.4 L286.3,731.5 L289.3,731.6 L292.2,731.7 L295.2,731.8 L298.2,732.0 L301.2,732.1 L304.2,732.3 L307.2,732.4 L310.2,732.6 L313.2,732.8 L316.2,732.9 L319.2,733.1 L322.2,733.3 L325.3,733.4 L328.3,733.6 L331.3,733.8 L334.3,733.9 L337.3,734.1 L340.3,734.2 L343.3,734.3 L346.3,734.5 L349.3,734.6 L352.3,734.7 L355.3,734.7 L358.3,734.8 L361.3,734.8 L364.3,734.8 L367.3,734.8 L370.3,734.8 L373.3,734.8 L376.3,734.7 L379.3,734.6 L382.3,734.5 L385.3,734.3 L388.3,734.1 L391.3,733.9 L394.3,733.6 L397.2,733.3 L400.2,733.0 L403.2,732.6 L406.2,732.2 L409.1,731.8 L412.1,731.3 L415.1,730.8 L418.0,730.2 L421.0,729.6 L423.9,728.9 L426.8,728.2 L429.8,727.4 L432.7,726.6 L435.6,725.8 L438.5,724.9 L441.4,723.9 L444.3,723.0 L447.2,722.0 L450.0,720.9 L452.8,719.9 L455.7,718.8 L458.4,717.6 L461.2,716.4 L464.0,715.2 L466.7,714.0 L469.4,712.8 L472.1,711.5 L474.7,710.2 L477.3,708.9 L479.9,707.5 L482.5,706.2 L485.0,704.8 L487.6,703.4 L490.1,702.0 L492.7,700.6 L495.2,699.1 L497.8,697.7 L500.3,696.2 L502.9,694.7 L505.5,693.3 L508.1,691.8 L510.7,690.3 L513.4,688.9 L516.1,687.4 L518.7,686.0 L521.4,684.6 L524.2,683.2 L526.9,681.9 L529.7,680.6 L532.4,679.3 L535.2,678.1 L538.0,677.0 L540.9,675.9 L543.7,674.9 L546.6,673.9 L549.4,673.0 L552.3,672.2 L555.2,671.5 L558.2,670.8 L561.1,670.3 L564.1,669.8 L567.1,669.5 L570.0,669.2 L573.0,668.9 L576.1,668.7 L579.1,668.6 L582.1,668.4 L585.1,668.3 L588.1,668.2 L591.2,668.1 L594.2,668.0 L597.2,667.8 L600.2,667.7 L603.2,667.6 L606.3,667.5 L609.3,667.4 L612.3,667.3 L615.3,667.3 L618.2,667.3 L621.2,667.3 L624.2,667.4 L627.1,667.6 L630.1,667.8 L633.0,668.1 L636.0,668.4 L638.9,668.8 L641.8,669.3 L644.7,669.9 L647.5,670.6 L650.4,671.4 L653.3,672.3 L656.1,673.3 L658.9,674.3 L661.7,675.5 L664.5,676.7 L667.2,678.0 L670.0,679.4 L672.7,680.8 L675.4,682.3 L678.0,683.8 L680.7,685.4 L683.3,686.9 L685.9,688.5 L688.5,690.1 L691.1,691.8 L693.6,693.4 L696.1,695.0 L698.6,696.5 L701.1,698.1 L703.5,699.6 L706.0,701.1 L708.5,702.6 L711.0,704.0 L713.6,705.3 L716.2,706.6 L718.9,707.8 L721.7,709.0 L724.5,710.0 L727.4,711.0 L730.4,711.8 L733.5,712.6 L736.6,713.2 L739.6,713.7 L742.7,714.1 L745.7,714.4 L748.6,714.8 L751.5,715.3 L754.3,715.9 L757.0,716.9 L759.6,718.2 L762.1,719.7 L764.6,721.4 L767.0,723.2 L769.4,725.1 L771.7,727.1 L774.1,729.1 L776.4,731.1 L778.8,733.2 L781.1,735.2 L783.4,737.1 L785.8,739.1 L788.2,741.0 L790.6,742.9 L793.0,744.6 L795.5,746.4 L798.0,748.0 L800.5,749.5 L803.1,750.9 L805.7,752.2 L808.4,753.4 L811.2,754.4 L814.0,755.3 L816.9,756.0 L819.8,756.6 L822.8,757.0 L825.7,757.3 L828.8,757.4 L831.8,757.5 L834.8,757.3 L837.8,757.0 L840.8,756.6 L843.8,756.1 L846.8,755.4 L849.7,754.6 L852.6,753.7 L855.4,752.6 L858.1,751.4 L860.8,750.1 L863.4,748.6 L866.0,747.1 L868.5,745.5 L871.0,743.8 L873.5,742.0 L875.9,740.3 L878.3,738.5 L880.7,736.6 L883.1,734.8 L885.5,733.0 L887.9,731.2 L890.2,729.4 L892.6,727.6 L895.0,725.8 L897.4,724.0 L899.8,722.3 L902.2,720.5 L904.6,718.7 L907.0,717.0 L909.4,715.2 L911.8,713.5 L914.2,711.7 L916.6,709.9 L919.0,708.1 L921.5,706.4 L923.9,704.6 L926.3,702.8 L928.7,701.0 L931.0,699.2 L933.4,697.4 L935.8,695.5 L938.2,693.7 L940.6,691.9 L942.9,690.0 L945.3,688.1 L947.7,686.3 L950.0,684.4 L952.3,682.5 L954.7,680.6 L957.0,678.7 L959.3,676.7 L961.6,674.8 L963.8,672.8 L966.1,670.8 L968.3,668.8 L970.6,666.8 L972.8,664.8 L975.0,662.7 L977.1,660.7 L979.3,658.6 L981.4,656.5 L983.5,654.4 L985.6,652.3 L987.7,650.1 L989.7,647.9 L991.8,645.7 L993.8,643.5 L995.8,641.3 L997.7,639.0 L999.6,636.7 L1001.5,634.4 L1003.4,632.1 L1005.2,629.8 L1007.1,627.4 L1008.9,625.0 L1010.6,622.6 L1012.4,620.2 L1014.1,617.8 L1015.8,615.3 L1017.5,612.8 L1019.2,610.3 L1020.8,607.8 L1022.4,605.3 L1024.0,602.8 L1025.6,600.2 L1027.1,597.6 L1028.7,595.1 L1030.2,592.5 L1031.7,589.9 L1033.2,587.3 L1034.6,584.6 L1036.1,582.0 L1037.5,579.4 L1038.9,576.7 L1040.3,574.0 L1041.7,571.4 L1043.0,568.7 L1044.4,566.0 L1045.7,563.3 L1047.0,560.6 L1048.3,557.9 L1049.6,555.2 L1050.9,552.4 L1052.1,549.7 L1053.4,547.0 L1054.6,544.2 L1055.8,541.5 L1057.0,538.7 L1058.2,536.0 L1059.4,533.2 L1060.6,530.5 L1061.7,527.7 L1062.8,524.9 L1063.9,522.1 L1065.0,519.3 L1066.1,516.5 L1067.2,513.7 L1068.3,510.9 L1069.3,508.1 L1070.3,505.3 L1071.4,502.5 L1072.4,499.7 L1073.3,496.8 L1074.3,494.0 L1075.3,491.2 L1076.2,488.3 L1077.1,485.5 L1078.1,482.6 L1079.0,479.8 L1079.9,476.9 L1080.7,474.1 L1081.6,471.2 L1082.4,468.3 L1083.3,465.4 L1084.1,462.6 L1084.9,459.7 L1085.7,456.8 L1086.5,453.9 L1087.2,451.0 L1088.0,448.1 L1088.7,445.2 L1089.4,442.3 L1090.1,439.4 L1090.8,436.5 L1091.5,433.6 L1092.2,430.7 L1092.9,427.7 L1093.5,424.8 L1094.1,421.9 L1094.8,419.0 L1095.4,416.0 L1096.0,413.1 L1096.6,410.2 L1097.1,407.2 L1097.7,404.3 L1098.2,401.3 L1098.8,398.4 L1099.3,395.4 L1099.8,392.5 L1100.3,389.5 L1100.8,386.6 L1101.3,383.6 L1101.8,380.7 L1102.2,377.7 L1102.7,374.7 L1103.1,371.8 L1103.6,368.8 L1104.0,365.8 L1104.4,362.9 L1104.8,359.9 L1105.2,356.9 L1105.6,354.0 L1106.0,351.0 L1106.3,348.0 L1106.7,345.0 L1107.1,342.1 L1107.4,339.1 L1107.8,336.1 L1108.1,333.1 L1108.5,330.1 L1108.8,327.1 L1109.2,324.2 L1109.5,321.2 L1109.8,318.2 L1110.2,315.2 L1110.5,312.2 L1110.9,309.2 L1111.2,306.3 L1111.5,303.3 L1111.9,300.3 L1112.2,297.3 L1112.6,294.3 L1112.9,291.3 L1113.3,288.3 L1113.6,285.3 L1114.0,282.4 L1114.3,279.4 L1114.7,276.4 L1115.1,273.4 L1115.5,270.4 L1115.8,267.4 L1116.2,264.5 L1116.6,261.5 L1117.0,258.5 L1117.4,255.5 L1117.9,252.5 L1118.3,249.6 L1118.7,246.6 L1119.2,243.6 L1119.6,240.6 L1120.1,237.6 L1120.6,234.7 L1121.0,231.7 L1121.5,228.7 L1122.0,225.8 L1122.5,222.8 L1123.0,219.8 L1123.5,216.9 L1124.0,213.9 L1124.4,210.9 L1124.9,208.0 L1125.3,205.0 L1125.8,202.1 L1126.2,199.1 L1126.6,196.2 L1127.0,193.2 L1127.4,190.3 L1127.8,187.3 L1128.2,184.4 L1128.6,181.4 L1129.0,178.5 L1129.4,175.5 L1129.9,172.6 L1130.4,169.7 L1130.9,166.7 L1131.5,163.8 L1132.0,160.9 L1132.7,157.9 L1133.3,155.0 L1134.0,152.1 L1134.7,149.2 L1135.5,146.2 L1136.3,143.3 L1137.2,140.4 L1138.1,137.5 L1139.0,134.6 L1140.0,131.7 L1141.0,128.8 L1142.1,125.9 L1143.5,123.3 L1145.4,121.2 L1148.1,119.9 L1150.6,120.6 L1152.5,122.9 L1154.0,125.6 L1155.2,128.3 L1156.4,131.2 L1157.5,134.0 L1158.6,136.8 L1159.6,139.7 L1160.5,142.5 L1161.5,145.4 L1162.4,148.3 L1163.2,151.1 L1164.1,154.0 L1164.9,156.9 L1165.7,159.8 L1166.4,162.7 L1167.2,165.6 L1167.9,168.5 L1168.6,171.4 L1169.4,174.3 L1170.1,177.2 L1170.8,180.1 L1171.4,183.0 L1172.1,186.0 L1172.8,188.9 L1173.4,191.8 L1174.1,194.7 L1174.7,197.7 L1175.4,200.6 L1176.0,203.5 L1176.6,206.4 L1177.2,209.4 L1177.8,212.3 L1178.4,215.2 L1179.0,218.2 L1179.6,221.1 L1180.1,224.1 L1180.7,227.0 L1181.3,230.0 L1181.8,232.9 L1182.4,235.9 L1182.9,238.8 L1183.4,241.8 L1184.0,244.7 L1184.5,247.7 L1185.0,250.6 L1185.5,253.6 L1186.1,256.5 L1186.6,259.5 L1187.1,262.4 L1187.6,265.4 L1188.1,268.4 L1188.6,271.3 L1189.1,274.3 L1189.6,277.2 L1190.1,280.2 L1190.6,283.2 L1191.1,286.1 L1191.5,289.1 L1192.0,292.0 L1192.5,295.0 L1193.0,298.0 L1193.5,300.9 L1194.0,303.9 L1194.5,306.9 L1194.9,309.8 L1195.4,312.8 L1195.9,315.8 L1196.4,318.7 L1196.9,321.7 L1197.4,324.7 L1197.9,327.6 L1198.3,330.6 L1198.8,333.5 L1199.3,336.5 L1199.8,339.5 L1200.3,342.4 L1200.8,345.4 L1201.3,348.4 L1201.8,351.3 L1202.3,354.3 L1202.8,357.2 L1203.3,360.2 L1203.8,363.2 L1204.3,366.1 L1204.8,369.1 L1205.2,372.1 L1205.7,375.0 L1206.2,378.0 L1206.7,380.9 L1207.2,383.9 L1207.7,386.9 L1208.2,389.8 L1208.7,392.8 L1209.2,395.8 L1209.7,398.7 L1210.2,401.7 L1210.7,404.6 L1211.2,407.6 L1211.7,410.6 L1212.2,413.5 L1212.7,416.5 L1213.2,419.4 L1213.7,422.4 L1214.1,425.4 L1214.6,428.3 L1215.1,431.3 L1215.6,434.3 L1216.1,437.2 L1216.6,440.2 L1217.1,443.1 L1217.6,446.1 L1218.1,449.1 L1218.6,452.0 L1219.0,455.0 L1219.5,457.9 L1220.0,460.9 L1220.5,463.9 L1221.0,466.8 L1221.5,469.8 L1221.9,472.7 L1222.4,475.7 L1222.9,478.7 L1223.4,481.6 L1223.8,484.6 L1224.3,487.5 L1224.8,490.5 L1225.3,493.5 L1225.7,496.4 L1226.2,499.4 L1226.7,502.3 L1227.2,505.3 L1227.6,508.2 L1228.1,511.2 L1228.5,514.2 L1229.0,517.1 L1229.5,520.1 L1229.9,523.0 L1230.4,526.0 L1230.8,529.0 L1231.3,531.9 L1231.8,534.9 L1232.2,537.8 L1232.7,540.8 L1233.1,543.8 L1233.5,546.7 L1234.0,549.7 L1234.4,552.6 L1234.9,555.6 L1235.3,558.5 L1235.8,561.5 L1236.2,564.5 L1236.7,567.4 L1237.1,570.4 L1237.6,573.3 L1238.0,576.3 L1238.5,579.2 L1239.0,582.2 L1239.4,585.2 L1239.9,588.1 L1240.4,591.1 L1240.9,594.0 L1241.4,597.0 L1241.9,599.9 L1242.5,602.9 L1243.0,605.8 L1243.5,608.8 L1244.1,611.7 L1244.7,614.7 L1245.3,617.6 L1245.8,620.6 L1246.5,623.5 L1247.1,626.4 L1247.7,629.4 L1248.3,632.3 L1249.0,635.3 L1249.6,638.2 L1250.3,641.1 L1250.9,644.1 L1251.6,647.0 L1252.2,650.0 L1252.9,652.9 L1253.6,655.8 L1254.3,658.7 L1254.9,661.7 L1255.6,664.6 L1256.3,667.5 L1257.0,670.5 L1257.7,673.4 L1258.3,676.3 L1259.0,679.2 L1259.7,682.1 L1260.4,685.0 L1261.1,688.0 L1261.8,690.9 L1262.5,693.8 L1263.2,696.7 L1263.9,699.6 L1264.6,702.5 L1265.4,705.4 L1266.1,708.3 L1266.8,711.2 L1267.6,714.1 L1268.4,717.0 L1269.2,719.9 L1270.0,722.8 L1270.8,725.7 L1271.6,728.6 L1272.4,731.4 L1273.3,734.3 L1274.2,737.2 L1275.1,740.1 L1276.0,743.0 L1276.9,745.8 L1277.8,748.7 L1278.8,751.6 L1279.7,754.4 L1280.7,757.3 L1281.7,760.1 L1282.7,763.0 L1283.7,765.8 L1284.7,768.6 L1285.8,771.4 L1286.8,774.3 L1287.8,777.1 L1288.9,779.9 L1290.0,782.7 L1291.1,785.5 L1292.1,788.3 L1293.2,791.1 L1294.3,793.8 L1295.4,796.6 L1296.5,799.3 L1297.7,802.1 L1298.8,804.8 L1299.9,807.6 L1301.1,810.3 L1302.2,813.0 L1303.4,815.7 L1304.6,818.4 L1305.9,821.1 L1307.1,823.7 L1308.4,826.4 L1309.7,829.0 L1311.1,831.7 L1312.5,834.3 L1313.9,836.9 L1315.4,839.5 L1316.9,842.1 L1318.4,844.7 L1320.0,847.3 L1321.7,849.8 L1323.4,852.3 L1325.2,854.9 L1327.0,857.4 L1328.9,859.9 L1330.9,862.3 L1332.9,864.7 L1335.0,867.0 L1337.2,869.2 L1339.5,871.2 L1341.9,873.1 L1344.3,874.7 L1346.9,876.1 L1349.5,877.3 L1352.3,878.2 L1355.2,878.8 L1358.2,879.0 L1361.2,879.0 L1364.3,878.6 L1367.4,878.0 L1370.4,877.1 L1373.3,876.1 L1376.1,874.8 L1378.7,873.4 L1381.1,871.8 L1383.4,870.2 L1385.6,868.4 L1387.8,866.6 L1390.0,864.8 L1392.2,862.9 L1394.4,861.1 L1396.6,859.3 L1398.9,857.4 L1401.2,855.6 L1403.6,853.8 L1406.0,851.9 L1408.4,850.1 L1410.8,848.3 L1413.2,846.5 L1415.7,844.8 L1418.2,843.0 L1420.7,841.3 L1423.3,839.6 L1425.9,837.9 L1428.4,836.2 L1431.0,834.6 L1433.7,833.0 L1436.3,831.4 L1439.0,829.9 L1441.6,828.4 L1444.3,827.0 L1447.0,825.6 L1449.8,824.2 L1452.5,822.9 L1455.2,821.7 L1458.0,820.4 L1460.7,819.3 L1463.5,818.2 L1466.3,817.2 L1469.0,816.2 L1471.8,815.5 L1474.6,814.9 L1477.4,814.4 L1480.2,814.2 L1483.0,814.2 L1485.8,814.5 L1488.6,815.1 L1491.3,815.9 L1494.1,817.0 L1496.9,818.3 L1499.7,819.7 L1502.4,821.3 L1505.2,823.0 L1507.9,824.7 L1510.7,826.4 L1513.4,828.2 L1516.1,829.9 L1518.8,831.5 L1521.5,832.9 L1524.1,834.3 L1526.8,835.6 L1529.4,836.8 L1532.1,837.9 L1534.7,839.0 L1537.4,840.0 L1540.0,840.9 L1542.7,841.9 L1545.4,842.8 L1548.1,843.7 L1550.8,844.6 L1553.6,845.5 L1556.4,846.5 L1559.2,847.4 L1562.0,848.5 L1564.9,849.6 L1567.9,850.8 L1570.8,851.9 L1573.8,852.9 L1576.8,853.6 L1579.9,853.9 L1582.9,853.7 L1585.8,853.1 L1588.8,852.3 L1591.7,851.4 L1594.5,850.4 L1597.3,849.3 L1600.0,848.0 L1602.6,846.6 L1605.1,845.1 L1607.4,843.4 L1609.7,841.6 L1611.8,839.6 L1613.7,837.5 L1615.5,835.3 L1617.1,832.9 L1618.7,830.4 L1620.2,827.8 L1621.6,825.1 L1623.0,822.4 L1624.4,819.7 L1625.8,816.9 L1627.4,814.1 L1629.0,811.4 L1630.7,808.8 L1632.6,806.2 L1634.6,803.7 L1636.8,801.6 L1639.0,799.7 L1641.4,798.4 L1643.8,797.6 L1646.3,797.4 L1648.8,797.8 L1651.4,798.8 L1654.0,800.5 L1656.6,802.6 L1659.1,804.9 L1661.6,807.3 L1664.1,809.6 L1666.6,811.5 L1669.1,812.9 L1671.6,813.8 L1674.1,813.8 L1676.8,813.1 L1679.5,812.1 L1682.3,811.1 L1685.2,810.4 L1688.1,810.1 L1691.1,810.5 L1694.0,811.6 L1696.9,813.2 L1699.7,814.9 L1702.4,816.5 L1705.0,817.8 L1707.4,819.2 L1709.6,820.9 L1711.0,822.3"/>
<path stroke="#231f20" d="M268.5,763.4 L271.4,763.4 L274.3,763.5 L277.2,763.6 L280.1,763.7 L283.1,763.8 L286.0,764.0 L289.0,764.1 L291.9,764.3 L294.9,764.4 L297.9,764.6 L300.9,764.7 L303.9,764.9 L306.9,765.1 L309.9,765.3 L312.9,765.4 L315.9,765.6 L318.9,765.8 L322.0,766.0 L325.0,766.1 L328.0,766.3 L331.1,766.4 L334.1,766.6 L337.1,766.7 L340.2,766.8 L343.2,767.0 L346.3,767.1 L349.3,767.2 L352.4,767.2 L355.4,767.3 L358.4,767.3 L361.5,767.4 L364.5,767.4 L367.6,767.4 L370.6,767.3 L373.6,767.3 L376.6,767.2 L379.7,767.1 L382.7,766.9 L385.7,766.8 L388.7,766.6 L391.7,766.4 L394.6,766.1 L397.6,765.9 L400.6,765.6 L403.6,765.2 L406.5,764.8 L409.5,764.4 L412.4,764.0 L415.3,763.5 L418.2,763.0 L421.1,762.4 L424.0,761.8 L426.9,761.1 L429.7,760.5 L432.6,759.7 L435.4,759.0 L438.3,758.2 L441.1,757.3 L443.9,756.4 L446.7,755.5 L449.5,754.6 L452.3,753.6 L455.1,752.6 L457.8,751.5 L460.6,750.4 L463.4,749.3 L466.1,748.1 L468.8,746.9 L471.6,745.7 L474.3,744.5 L477.0,743.2 L479.8,741.9 L482.5,740.5 L485.2,739.2 L487.9,737.8 L490.6,736.3 L493.3,734.9 L496.0,733.4 L498.7,731.9 L501.4,730.4 L504.1,728.8 L506.8,727.3 L509.4,725.7 L512.1,724.2 L514.8,722.6 L517.5,721.1 L520.2,719.6 L522.9,718.2 L525.6,716.9 L528.4,715.6 L531.1,714.4 L533.8,713.2 L536.6,712.2 L539.3,711.3 L542.1,710.5 L544.9,709.9 L547.7,709.4 L550.5,709.0 L553.4,708.7 L556.2,708.4 L559.1,708.2 L562.0,707.9 L564.9,707.7 L567.9,707.4 L570.8,707.1 L573.8,706.8 L576.8,706.5 L579.8,706.2 L582.8,705.9 L585.8,705.5 L588.9,705.2 L591.9,704.9 L594.9,704.6 L598.0,704.4 L601.0,704.1 L604.1,703.9 L607.1,703.7 L610.2,703.5 L613.2,703.3 L616.2,703.2 L619.3,703.2 L622.3,703.3 L625.3,703.5 L628.3,703.7 L631.3,704.0 L634.3,704.5 L637.3,705.0 L640.2,705.5 L643.2,706.2 L646.1,706.9 L649.0,707.7 L651.8,708.6 L654.7,709.6 L657.5,710.6 L660.3,711.7 L663.1,712.9 L665.8,714.1 L668.5,715.4 L671.2,716.8 L673.9,718.2 L676.5,719.6 L679.1,721.0 L681.8,722.5 L684.4,724.0 L687.0,725.4 L689.6,726.8 L692.3,728.2 L694.9,729.6 L697.6,730.9 L700.3,732.1 L703.1,733.3 L705.8,734.3 L708.6,735.3 L711.5,736.1 L714.3,736.9 L717.3,737.5 L720.2,738.0 L723.2,738.4 L726.2,738.8 L729.2,739.0 L732.2,739.1 L735.3,739.2 L738.3,739.1 L741.3,739.0 L744.3,738.8 L747.3,738.7 L750.3,738.6 L753.2,738.8 L756.1,739.2 L759.0,739.7 L761.9,740.5 L764.6,741.5 L767.4,742.7 L770.1,744.1 L772.7,745.7 L775.2,747.4 L777.7,749.2 L780.2,751.2 L782.6,753.3 L784.9,755.5 L787.2,757.6 L789.6,759.6 L792.0,761.6 L794.5,763.3 L797.0,764.9 L799.6,766.3 L802.2,767.6 L804.9,768.6 L807.6,769.5 L810.4,770.3 L813.2,770.9 L816.1,771.3 L819.0,771.6 L822.0,771.8 L825.0,771.8 L828.0,771.6 L831.0,771.4 L834.0,771.0 L837.0,770.5 L840.0,769.9 L843.0,769.1 L845.9,768.3 L848.8,767.3 L851.6,766.3 L854.4,765.1 L857.1,763.9 L859.8,762.6 L862.4,761.2 L865.0,759.7 L867.6,758.1 L870.1,756.5 L872.6,754.9 L875.1,753.2 L877.5,751.4 L879.9,749.6 L882.3,747.8 L884.7,745.9 L887.1,744.1 L889.5,742.2 L891.8,740.3 L894.2,738.4 L896.5,736.5 L898.9,734.6 L901.2,732.7 L903.6,730.8 L905.9,728.9 L908.3,727.1 L910.7,725.3 L913.1,723.5 L915.5,721.8 L917.9,720.1 L920.3,718.3 L922.7,716.6 L925.2,715.0 L927.6,713.3 L930.0,711.6 L932.5,709.9 L934.9,708.2 L937.3,706.5 L939.7,704.7 L942.1,703.0 L944.5,701.2 L946.9,699.5 L949.3,697.6 L951.7,695.8 L954.1,693.9 L956.4,692.1 L958.8,690.1 L961.1,688.2 L963.4,686.3 L965.7,684.3 L968.0,682.3 L970.2,680.2 L972.4,678.2 L974.6,676.1 L976.8,674.0 L978.9,671.9 L981.1,669.7 L983.2,667.6 L985.2,665.4 L987.2,663.1 L989.2,660.9 L991.2,658.6 L993.1,656.3 L995.1,654.0 L996.9,651.7 L998.8,649.4 L1000.6,647.0 L1002.4,644.6 L1004.2,642.2 L1005.9,639.8 L1007.7,637.3 L1009.4,634.9 L1011.1,632.4 L1012.7,629.9 L1014.4,627.4 L1016.0,624.9 L1017.6,622.4 L1019.2,619.8 L1020.7,617.3 L1022.3,614.7 L1023.8,612.1 L1025.3,609.6 L1026.8,607.0 L1028.3,604.4 L1029.7,601.8 L1031.2,599.1 L1032.6,596.5 L1034.0,593.9 L1035.5,591.2 L1036.9,588.6 L1038.2,585.9 L1039.6,583.3 L1041.0,580.6 L1042.3,577.9 L1043.6,575.2 L1044.9,572.5 L1046.3,569.8 L1047.5,567.1 L1048.8,564.4 L1050.1,561.7 L1051.3,558.9 L1052.5,556.2 L1053.8,553.5 L1055.0,550.7 L1056.2,548.0 L1057.3,545.2 L1058.5,542.4 L1059.6,539.7 L1060.8,536.9 L1061.9,534.1 L1063.0,531.3 L1064.1,528.5 L1065.2,525.7 L1066.2,522.9 L1067.3,520.1 L1068.3,517.3 L1069.4,514.5 L1070.4,511.6 L1071.4,508.8 L1072.3,506.0 L1073.3,503.1 L1074.3,500.3 L1075.2,497.4 L1076.1,494.6 L1077.0,491.7 L1077.9,488.9 L1078.8,486.0 L1079.7,483.1 L1080.5,480.2 L1081.4,477.4 L1082.2,474.5 L1083.0,471.6 L1083.8,468.7 L1084.6,465.8 L1085.4,462.9 L1086.1,460.0 L1086.9,457.1 L1087.6,454.2 L1088.3,451.3 L1089.0,448.4 L1089.7,445.4 L1090.4,442.5 L1091.0,439.6 L1091.7,436.7 L1092.3,433.7 L1092.9,430.8 L1093.5,427.9 L1094.1,424.9 L1094.7,422.0 L1095.3,419.0 L1095.9,416.1 L1096.4,413.1 L1097.0,410.2 L1097.5,407.2 L1098.0,404.3 L1098.5,401.3 L1099.0,398.4 L1099.5,395.4 L1100.0,392.5 L1100.5,389.5 L1100.9,386.5 L1101.4,383.6 L1101.8,380.6 L1102.3,377.6 L1102.7,374.7 L1103.1,371.7 L1103.5,368.7 L1103.9,365.7 L1104.3,362.8 L1104.7,359.8 L1105.1,356.8 L1105.5,353.8 L1105.8,350.9 L1106.2,347.9 L1106.6,344.9 L1106.9,341.9 L1107.3,338.9 L1107.6,336.0 L1108.0,333.0 L1108.3,330.0 L1108.6,327.0 L1109.0,324.1 L1109.3,321.1 L1109.6,318.1 L1110.0,315.1 L1110.3,312.1 L1110.7,309.2 L1111.0,306.2 L1111.3,303.2 L1111.7,300.2 L1112.0,297.3 L1112.4,294.3 L1112.8,291.3 L1113.1,288.3 L1113.5,285.4 L1113.9,282.4 L1114.2,279.4 L1114.6,276.5 L1115.0,273.5 L1115.4,270.5 L1115.8,267.6 L1116.3,264.6 L1116.7,261.7 L1117.1,258.7 L1117.5,255.7 L1118.0,252.8 L1118.4,249.8 L1118.8,246.9 L1119.3,243.9 L1119.7,240.9 L1120.2,238.0 L1120.6,235.0 L1121.0,232.0 L1121.5,229.1 L1121.9,226.1 L1122.3,223.1 L1122.8,220.2 L1123.2,217.2 L1123.6,214.2 L1124.0,211.3 L1124.4,208.3 L1124.8,205.3 L1125.2,202.3 L1125.6,199.3 L1126.0,196.3 L1126.4,193.3 L1126.7,190.4 L1127.1,187.4 L1127.5,184.4 L1127.8,181.4 L1128.2,178.4 L1128.6,175.4 L1129.0,172.4 L1129.4,169.4 L1129.8,166.5 L1130.2,163.5 L1130.7,160.5 L1131.1,157.6 L1131.6,154.6 L1132.1,151.7 L1132.6,148.8 L1133.2,145.8 L1133.7,142.9 L1134.3,140.0 L1135.0,137.1 L1135.7,134.2 L1136.4,131.3 L1137.2,128.4 L1138.1,125.5 L1139.1,122.5 L1140.2,119.6 L1141.5,116.8 L1143.3,114.4 L1145.9,112.8 L1148.7,112.6 L1151.0,114.0 L1152.8,116.4 L1154.2,119.2 L1155.4,122.0 L1156.5,124.9 L1157.5,127.8 L1158.4,130.7 L1159.2,133.6 L1160.0,136.5 L1160.8,139.3 L1161.5,142.2 L1162.3,145.1 L1163.1,148.0 L1163.8,150.9 L1164.5,153.8 L1165.3,156.7 L1166.0,159.6 L1166.7,162.5 L1167.4,165.4 L1168.0,168.4 L1168.7,171.3 L1169.4,174.2 L1170.0,177.1 L1170.7,180.0 L1171.3,183.0 L1172.0,185.9 L1172.6,188.8 L1173.2,191.8 L1173.8,194.7 L1174.4,197.6 L1175.0,200.6 L1175.6,203.5 L1176.2,206.5 L1176.8,209.4 L1177.4,212.4 L1177.9,215.3 L1178.5,218.3 L1179.1,221.2 L1179.6,224.2 L1180.2,227.1 L1180.7,230.1 L1181.3,233.0 L1181.8,236.0 L1182.4,238.9 L1182.9,241.9 L1183.4,244.9 L1184.0,247.8 L1184.5,250.8 L1185.0,253.7 L1185.5,256.7 L1186.1,259.6 L1186.6,262.6 L1187.1,265.6 L1187.6,268.5 L1188.1,271.5 L1188.6,274.4 L1189.2,277.4 L1189.7,280.3 L1190.2,283.3 L1190.7,286.3 L1191.2,289.2 L1191.7,292.2 L1192.2,295.1 L1192.7,298.1 L1193.2,301.0 L1193.7,304.0 L1194.2,307.0 L1194.7,309.9 L1195.3,312.9 L1195.8,315.8 L1196.3,318.8 L1196.7,321.7 L1197.2,324.7 L1197.7,327.6 L1198.2,330.6 L1198.7,333.6 L1199.2,336.5 L1199.7,339.5 L1200.2,342.4 L1200.7,345.4 L1201.2,348.3 L1201.7,351.3 L1202.2,354.2 L1202.7,357.2 L1203.1,360.2 L1203.6,363.1 L1204.1,366.1 L1204.6,369.0 L1205.1,372.0 L1205.6,374.9 L1206.0,377.9 L1206.5,380.8 L1207.0,383.8 L1207.5,386.8 L1208.0,389.7 L1208.4,392.7 L1208.9,395.6 L1209.4,398.6 L1209.9,401.5 L1210.3,404.5 L1210.8,407.5 L1211.3,410.4 L1211.8,413.4 L1212.2,416.3 L1212.7,419.3 L1213.2,422.3 L1213.6,425.2 L1214.1,428.2 L1214.6,431.1 L1215.0,434.1 L1215.5,437.1 L1216.0,440.0 L1216.4,443.0 L1216.9,445.9 L1217.4,448.9 L1217.8,451.9 L1218.3,454.8 L1218.8,457.8 L1219.2,460.8 L1219.7,463.7 L1220.1,466.7 L1220.6,469.6 L1221.1,472.6 L1221.5,475.6 L1222.0,478.5 L1222.4,481.5 L1222.9,484.5 L1223.3,487.4 L1223.8,490.4 L1224.3,493.4 L1224.7,496.4 L1225.2,499.3 L1225.6,502.3 L1226.1,505.3 L1226.5,508.2 L1227.0,511.2 L1227.5,514.2 L1227.9,517.1 L1228.4,520.1 L1228.9,523.1 L1229.3,526.0 L1229.8,529.0 L1230.3,532.0 L1230.7,534.9 L1231.2,537.9 L1231.7,540.9 L1232.2,543.8 L1232.7,546.8 L1233.1,549.8 L1233.6,552.7 L1234.1,555.7 L1234.6,558.7 L1235.1,561.6 L1235.6,564.6 L1236.1,567.6 L1236.6,570.5 L1237.1,573.5 L1237.7,576.4 L1238.2,579.4 L1238.7,582.4 L1239.2,585.3 L1239.8,588.3 L1240.3,591.2 L1240.8,594.2 L1241.4,597.1 L1242.0,600.1 L1242.5,603.0 L1243.1,606.0 L1243.6,608.9 L1244.2,611.9 L1244.8,614.8 L1245.4,617.8 L1246.0,620.7 L1246.6,623.6 L1247.2,626.6 L1247.8,629.5 L1248.4,632.4 L1249.0,635.4 L1249.7,638.3 L1250.3,641.2 L1251.0,644.2 L1251.6,647.1 L1252.3,650.0 L1252.9,652.9 L1253.6,655.9 L1254.3,658.8 L1255.0,661.7 L1255.7,664.6 L1256.4,667.5 L1257.1,670.4 L1257.8,673.3 L1258.5,676.3 L1259.3,679.2 L1260.0,682.1 L1260.8,685.0 L1261.5,687.9 L1262.3,690.7 L1263.1,693.6 L1263.8,696.5 L1264.6,699.4 L1265.4,702.3 L1266.2,705.2 L1267.0,708.1 L1267.9,710.9 L1268.7,713.8 L1269.6,716.7 L1270.4,719.5 L1271.3,722.4 L1272.1,725.3 L1273.0,728.1 L1273.9,731.0 L1274.8,733.8 L1275.7,736.7 L1276.6,739.5 L1277.6,742.4 L1278.5,745.2 L1279.5,748.1 L1280.4,750.9 L1281.4,753.7 L1282.4,756.6 L1283.3,759.4 L1284.3,762.2 L1285.4,765.0 L1286.4,767.8 L1287.4,770.6 L1288.5,773.4 L1289.5,776.2 L1290.6,779.0 L1291.7,781.8 L1292.7,784.6 L1293.8,787.4 L1294.9,790.2 L1296.1,793.0 L1297.2,795.8 L1298.3,798.5 L1299.5,801.3 L1300.7,804.1 L1301.9,806.8 L1303.0,809.6 L1304.2,812.3 L1305.5,815.1 L1306.7,817.8 L1307.9,820.6 L1309.2,823.3 L1310.5,826.0 L1311.7,828.8 L1313.0,831.5 L1314.3,834.2 L1315.7,836.9 L1317.0,839.6 L1318.4,842.3 L1319.8,844.9 L1321.3,847.5 L1322.8,850.1 L1324.4,852.7 L1326.1,855.1 L1327.8,857.6 L1329.6,860.0 L1331.6,862.3 L1333.6,864.5 L1335.7,866.7 L1338.0,868.8 L1340.4,870.8 L1342.9,872.7 L1345.5,874.4 L1348.2,875.9 L1350.9,877.2 L1353.7,878.2 L1356.5,878.9 L1359.4,879.2 L1362.2,879.2 L1365.0,878.9 L1367.8,878.2 L1370.5,877.4 L1373.2,876.4 L1375.8,875.1 L1378.4,873.7 L1380.9,872.2 L1383.5,870.5 L1385.9,868.7 L1388.4,866.9 L1390.8,864.9 L1393.2,863.0 L1395.6,861.0 L1398.0,858.9 L1400.4,857.0 L1402.7,855.0 L1405.1,853.1 L1407.5,851.3 L1409.9,849.5 L1412.2,847.8 L1414.6,846.1 L1417.0,844.4 L1419.5,842.8 L1421.9,841.2 L1424.3,839.6 L1426.8,838.1 L1429.3,836.5 L1431.8,835.0 L1434.4,833.4 L1436.9,831.9 L1439.5,830.3 L1442.2,828.7 L1444.8,827.2 L1447.5,825.6 L1450.2,824.1 L1452.9,822.6 L1455.7,821.2 L1458.5,819.9 L1461.3,818.6 L1464.0,817.4 L1466.9,816.3 L1469.7,815.4 L1472.5,814.5 L1475.3,813.9 L1478.2,813.3 L1481.0,812.9 L1483.9,812.7 L1486.7,812.7 L1489.5,812.9 L1492.4,813.2 L1495.2,813.8 L1498.0,814.7 L1500.8,815.7 L1503.6,816.8 L1506.4,818.1 L1509.2,819.5 L1512.0,820.9 L1514.8,822.4 L1517.6,823.8 L1520.4,825.2 L1523.2,826.6 L1526.0,827.8 L1528.8,828.8 L1531.6,829.7 L1534.4,830.5 L1537.3,831.0 L1540.1,831.5 L1543.0,832.0 L1545.9,832.3 L1548.8,832.7 L1551.7,833.1 L1554.6,833.6 L1557.6,834.2 L1560.5,834.9 L1563.5,835.7 L1566.6,836.6 L1569.6,837.5 L1572.6,838.2 L1575.6,838.7 L1578.6,839.0 L1581.5,839.0 L1584.4,838.6 L1587.3,838.0 L1590.1,837.1 L1592.9,835.9 L1595.6,834.6 L1598.2,833.1 L1600.7,831.4 L1603.2,829.6 L1605.5,827.7 L1607.8,825.7 L1609.9,823.7 L1611.9,821.6 L1613.8,819.4 L1615.7,817.1 L1617.4,814.8 L1619.0,812.4 L1620.6,809.9 L1622.1,807.3 L1623.5,804.6 L1624.8,801.9 L1626.0,799.0 L1627.3,796.0 L1628.5,793.1 L1629.9,790.2 L1631.5,787.5 L1633.2,785.0 L1635.3,782.8 L1637.8,781.0 L1640.5,779.6 L1643.4,778.8 L1646.1,778.6 L1648.7,778.9 L1651.2,779.6 L1653.7,780.8 L1656.1,782.4 L1658.5,784.3 L1661.0,786.4 L1663.4,788.7 L1665.9,790.8 L1668.4,792.6 L1670.9,793.9 L1673.5,794.4 L1676.2,794.0 L1678.9,793.2 L1681.8,792.3 L1684.7,791.5 L1687.6,791.2 L1690.5,791.3 L1693.5,792.1 L1696.4,793.4 L1699.2,794.9 L1702.0,796.5 L1704.7,798.0 L1707.3,799.3 L1709.7,800.6 L1711.0,801.4"/>
</g>
<rect x="298.3" y="209.9" width="649.8" height="374.4" fill="#fff"/>
<g stroke="#231f20" stroke-width="1.75" fill="none">
<rect x="298.3" y="209.9" width="649.8" height="374.4"/>
<line x1="298.3" y1="584.3" x2="298.3" y2="591.3"/>
<line x1="391.1" y1="584.3" x2="391.1" y2="591.3"/>
<line x1="484.0" y1="584.3" x2="484.0" y2="591.3"/>
<line x1="576.8" y1="584.3" x2="576.8" y2="591.3"/>
<line x1="669.6" y1="584.3" x2="669.6" y2="591.3"/>
<line x1="762.5" y1="584.3" x2="762.5" y2="591.3"/>
<line x1="855.3" y1="584.3" x2="855.3" y2="591.3"/>
<line x1="948.1" y1="584.3" x2="948.1" y2="591.3"/>
<line x1="291.1" y1="209.9" x2="298.3" y2="209.9"/>
<line x1="291.1" y1="270.2" x2="298.3" y2="270.2"/>
<line x1="291.1" y1="330.5" x2="298.3" y2="330.5"/>
<line x1="291.1" y1="390.8" x2="298.3" y2="390.8"/>
<line x1="291.1" y1="451.1" x2="298.3" y2="451.1"/>
<line x1="291.1" y1="511.4" x2="298.3" y2="511.4"/>
<line x1="291.1" y1="571.7" x2="298.3" y2="571.7"/>
</g>
<g fill="none" stroke-width="1.8" stroke-linejoin="round" stroke-linecap="round" clip-path="url(#ci)">
<path stroke="#62b445" d="M299.2,550.6 L302.1,551.0 L304.9,551.4 L307.8,551.9 L310.7,552.5 L313.6,553.0 L316.5,553.5 L319.4,554.0 L322.3,554.6 L325.2,555.1 L328.2,555.6 L331.1,556.0 L334.1,556.5 L337.0,556.9 L340.0,557.2 L343.0,557.5 L346.0,557.7 L348.9,557.9 L351.9,558.0 L354.9,558.0 L357.9,557.9 L360.9,557.7 L363.9,557.5 L366.9,557.3 L369.9,557.2 L372.9,557.3 L375.9,557.6 L378.9,558.0 L381.9,558.4 L384.9,558.7 L388.0,558.8 L391.0,558.5 L394.0,557.9 L396.9,557.1 L399.9,556.3 L402.9,555.5 L405.9,554.9 L408.9,554.4 L411.9,554.1 L414.8,553.8 L417.8,553.6 L420.7,553.3 L423.7,552.9 L426.6,552.4 L429.6,551.9 L432.5,551.4 L435.4,550.8 L438.3,550.3 L441.2,549.9 L444.1,549.5 L446.9,549.1 L449.8,548.6 L452.6,547.9 L455.5,547.1 L458.3,546.2 L461.1,545.2 L463.9,544.2 L466.7,543.0 L469.4,541.8 L472.2,540.6 L474.9,539.4 L477.6,538.2 L480.3,537.0 L483.0,535.8 L485.6,534.6 L488.3,533.4 L490.9,532.0 L493.5,530.6 L496.1,529.1 L498.6,527.5 L501.1,525.9 L503.6,524.2 L506.1,522.4 L508.5,520.6 L510.9,518.7 L513.3,516.7 L515.6,514.7 L517.9,512.7 L520.2,510.6 L522.4,508.5 L524.5,506.3 L526.7,504.1 L528.7,501.8 L530.7,499.6 L532.7,497.3 L534.6,495.0 L536.5,492.7 L538.4,490.3 L540.2,488.0 L542.0,485.6 L543.8,483.2 L545.6,480.9 L547.3,478.5 L549.1,476.1 L550.9,473.8 L552.8,471.4 L554.6,469.1 L556.5,466.8 L558.4,464.5 L560.4,462.3 L562.4,460.1 L564.5,457.9 L566.7,455.7 L568.9,453.6 L571.2,451.6 L573.5,449.6 L575.9,447.7 L578.3,445.8 L580.8,444.1 L583.3,442.5 L585.9,440.9 L588.5,439.5 L591.1,438.3 L593.8,437.1 L596.5,436.1 L599.3,435.2 L602.1,434.4 L604.9,433.6 L607.8,432.9 L610.6,432.2 L613.5,431.6 L616.5,430.9 L619.4,430.3 L622.4,429.6 L625.3,429.0 L628.3,428.4 L631.3,427.7 L634.3,427.1 L637.3,426.4 L640.4,425.8 L643.4,425.1 L646.4,424.5 L649.4,423.8 L652.4,423.3 L655.4,422.8 L658.4,422.4 L661.4,422.1 L664.4,422.0 L667.4,421.9 L670.3,422.0 L673.2,422.2 L676.1,422.5 L679.0,423.1 L681.9,423.8 L684.7,424.6 L687.5,425.6 L690.2,426.7 L693.0,427.9 L695.6,429.2 L698.3,430.6 L700.9,432.0 L703.4,433.5 L705.9,435.1 L708.4,436.7 L710.8,438.4 L713.2,440.2 L715.6,442.1 L717.8,444.0 L720.1,446.0 L722.3,448.0 L724.4,450.1 L726.5,452.3 L728.5,454.5 L730.5,456.8 L732.5,459.2 L734.3,461.6 L736.2,464.0 L738.0,466.5 L739.7,469.0 L741.5,471.6 L743.3,474.1 L745.0,476.6 L746.8,479.1 L748.6,481.5 L750.5,483.9 L752.4,486.2 L754.3,488.4 L756.4,490.6 L758.5,492.6 L760.6,494.6 L762.9,496.4 L765.3,498.1 L767.8,499.6 L770.4,501.0 L773.2,502.2 L776.0,503.3 L779.0,504.3 L781.9,505.2 L784.9,506.1 L787.9,506.9 L790.9,507.7 L793.9,508.5 L796.8,509.4 L799.6,510.4 L802.4,511.4 L805.0,512.5 L807.6,513.8 L810.0,515.1 L812.4,516.6 L814.8,518.1 L817.0,519.8 L819.2,521.7 L821.3,523.6 L823.4,525.8 L825.5,528.0 L827.5,530.4 L829.4,532.9 L831.4,535.4 L833.3,538.0 L835.2,540.5 L837.1,543.0 L838.9,545.5 L840.8,547.8 L842.7,550.1 L844.6,552.4 L846.5,554.6 L848.4,556.8 L850.4,559.0 L852.4,561.1 L854.4,563.3 L856.5,565.4 L858.6,567.5 L860.8,569.6 L863.1,571.8 L865.4,573.8 L867.8,575.8 L870.3,577.6 L872.8,579.2 L875.5,580.4 L878.3,581.3 L881.1,581.9 L884.0,582.2 L886.9,582.3 L889.8,582.0 L892.7,581.5 L895.7,580.8 L898.6,579.9 L901.4,578.8 L904.2,577.5 L906.9,576.0 L909.6,574.4 L912.1,572.7 L914.5,570.9 L916.8,569.0 L919.0,567.0 L921.2,564.9 L923.3,562.7 L925.3,560.5 L927.3,558.2 L929.2,555.9 L931.1,553.6 L933.0,551.3 L934.9,549.0 L936.8,546.6 L938.7,544.3 L940.7,542.0 L942.6,539.8 L944.7,537.6 L946.8,535.5 L948.0,534.3"/>
<path stroke="#e6403a" d="M298.8,435.4 L301.8,435.6 L304.8,435.8 L307.8,436.1 L310.8,436.4 L313.8,436.8 L316.8,437.1 L319.8,437.5 L322.8,437.8 L325.8,438.1 L328.8,438.4 L331.8,438.7 L334.7,438.8 L337.7,439.0 L340.7,439.0 L343.7,439.0 L346.6,438.8 L349.6,438.6 L352.6,438.2 L355.5,437.7 L358.5,437.0 L361.5,436.2 L364.4,435.3 L367.4,434.5 L370.3,433.9 L373.3,433.6 L376.2,433.7 L379.1,434.0 L382.1,434.5 L385.0,434.9 L388.0,435.0 L390.9,434.6 L393.8,434.0 L396.7,433.1 L399.7,432.2 L402.6,431.3 L405.5,430.6 L408.4,430.2 L411.3,430.0 L414.3,429.9 L417.2,429.8 L420.1,429.6 L423.0,429.3 L425.9,428.6 L428.8,427.8 L431.7,426.7 L434.6,425.6 L437.5,424.4 L440.4,423.4 L443.3,422.3 L446.2,421.4 L449.1,420.5 L451.9,419.6 L454.8,418.8 L457.7,418.0 L460.6,417.2 L463.4,416.4 L466.3,415.6 L469.1,414.7 L471.8,413.7 L474.6,412.7 L477.3,411.6 L479.9,410.3 L482.5,408.9 L485.1,407.4 L487.6,405.7 L490.0,403.8 L492.3,401.8 L494.7,399.7 L496.9,397.5 L499.1,395.3 L501.3,393.2 L503.4,391.1 L505.5,389.0 L507.5,386.9 L509.5,384.9 L511.5,382.8 L513.5,380.7 L515.4,378.5 L517.4,376.3 L519.3,374.1 L521.2,371.8 L523.1,369.5 L525.0,367.1 L526.9,364.8 L528.8,362.4 L530.7,360.1 L532.6,357.7 L534.6,355.3 L536.5,353.0 L538.5,350.6 L540.4,348.3 L542.3,345.9 L544.3,343.6 L546.2,341.3 L548.1,339.0 L550.0,336.7 L551.8,334.4 L553.7,332.1 L555.5,329.8 L557.4,327.6 L559.3,325.4 L561.2,323.1 L563.1,320.9 L565.2,318.7 L567.3,316.5 L569.5,314.4 L571.7,312.3 L574.0,310.2 L576.4,308.3 L578.8,306.4 L581.3,304.7 L583.9,303.2 L586.5,301.7 L589.1,300.4 L591.8,299.2 L594.5,298.1 L597.3,297.2 L600.0,296.3 L602.9,295.6 L605.7,295.0 L608.6,294.4 L611.5,293.8 L614.4,293.2 L617.4,292.5 L620.3,291.5 L623.3,290.5 L626.3,289.5 L629.3,288.5 L632.3,287.8 L635.3,287.3 L638.3,287.0 L641.3,286.8 L644.3,286.6 L647.4,286.5 L650.3,286.3 L653.3,286.0 L656.3,285.7 L659.3,285.3 L662.2,285.0 L665.1,284.7 L668.0,284.4 L670.9,284.3 L673.8,284.3 L676.7,284.5 L679.5,284.9 L682.3,285.5 L685.1,286.3 L687.8,287.4 L690.6,288.7 L693.3,290.1 L695.9,291.6 L698.6,293.2 L701.2,294.9 L703.8,296.5 L706.3,298.2 L708.8,299.9 L711.3,301.7 L713.7,303.5 L716.1,305.3 L718.5,307.2 L720.8,309.2 L723.1,311.1 L725.3,313.1 L727.5,315.2 L729.6,317.3 L731.7,319.5 L733.7,321.7 L735.7,323.9 L737.6,326.3 L739.5,328.6 L741.4,331.1 L743.2,333.5 L745.0,336.0 L746.8,338.4 L748.6,340.9 L750.4,343.4 L752.2,345.8 L754.0,348.2 L755.9,350.5 L757.8,352.8 L759.8,355.0 L761.8,357.1 L764.0,359.1 L766.2,361.0 L768.5,362.8 L770.9,364.4 L773.4,365.9 L776.0,367.3 L778.8,368.5 L781.6,369.6 L784.5,370.6 L787.5,371.6 L790.4,372.5 L793.4,373.4 L796.4,374.3 L799.3,375.2 L802.2,376.1 L805.0,377.2 L807.7,378.4 L810.3,379.7 L812.7,381.2 L815.0,382.9 L817.2,384.8 L819.3,386.9 L821.2,389.0 L823.1,391.4 L824.8,393.8 L826.5,396.3 L828.1,398.9 L829.7,401.5 L831.2,404.2 L832.7,406.9 L834.1,409.6 L835.6,412.3 L837.0,415.0 L838.4,417.6 L839.9,420.2 L841.4,422.8 L842.9,425.4 L844.4,427.9 L846.0,430.5 L847.7,433.0 L849.5,435.5 L851.3,438.0 L853.2,440.4 L855.1,442.8 L857.2,445.2 L859.3,447.4 L861.5,449.5 L863.8,451.6 L866.1,453.5 L868.5,455.2 L870.9,456.8 L873.4,458.2 L876.0,459.4 L878.6,460.4 L881.3,461.2 L884.1,461.8 L886.9,462.0 L889.8,462.1 L892.7,461.8 L895.6,461.3 L898.5,460.6 L901.4,459.7 L904.3,458.5 L907.1,457.2 L909.9,455.7 L912.5,454.0 L915.0,452.2 L917.5,450.2 L919.8,448.2 L922.0,446.0 L924.1,443.8 L926.2,441.5 L928.1,439.1 L930.0,436.7 L931.9,434.3 L933.7,431.9 L935.5,429.5 L937.3,427.1 L939.1,424.7 L940.9,422.4 L942.8,420.2 L944.6,418.0 L946.6,415.9 L947.5,414.9"/>
<path stroke="#4c4a9c" d="M298.7,393.5 L301.7,394.4 L304.7,395.1 L307.7,395.8 L310.7,396.3 L313.7,396.8 L316.6,397.2 L319.6,397.5 L322.6,397.8 L325.6,398.0 L328.5,398.2 L331.5,398.4 L334.5,398.6 L337.5,398.8 L340.4,399.0 L343.4,399.2 L346.4,399.4 L349.4,399.7 L352.3,399.9 L355.3,400.2 L358.3,400.4 L361.3,400.6 L364.3,400.8 L367.2,400.9 L370.2,400.9 L373.2,400.8 L376.2,400.6 L379.2,400.4 L382.2,400.3 L385.1,400.1 L388.1,400.1 L391.1,400.1 L394.1,400.3 L397.1,400.5 L400.1,400.6 L403.1,400.7 L406.1,400.8 L409.1,400.7 L412.1,400.6 L415.1,400.4 L418.1,400.2 L421.1,399.9 L424.1,399.6 L427.1,399.2 L430.1,398.7 L433.0,398.2 L436.0,397.6 L438.9,396.9 L441.9,396.0 L444.8,395.1 L447.7,394.2 L450.6,393.2 L453.5,392.3 L456.3,391.4 L459.1,390.6 L461.9,389.7 L464.7,388.8 L467.5,387.9 L470.2,387.0 L472.9,385.9 L475.6,384.8 L478.2,383.5 L480.8,382.1 L483.4,380.6 L486.0,379.0 L488.5,377.4 L491.0,375.6 L493.4,373.8 L495.8,372.0 L498.2,370.1 L500.5,368.2 L502.8,366.3 L505.1,364.3 L507.3,362.3 L509.5,360.2 L511.7,358.2 L513.9,356.0 L516.0,353.9 L518.1,351.7 L520.2,349.6 L522.2,347.3 L524.2,345.1 L526.2,342.9 L528.2,340.6 L530.2,338.3 L532.1,336.0 L534.1,333.7 L536.0,331.4 L537.9,329.1 L539.8,326.8 L541.6,324.4 L543.5,322.1 L545.3,319.8 L547.1,317.4 L549.0,315.1 L550.8,312.7 L552.6,310.4 L554.4,308.1 L556.2,305.8 L558.1,303.5 L560.0,301.2 L562.0,299.0 L564.1,296.7 L566.2,294.5 L568.4,292.3 L570.7,290.2 L573.0,288.3 L575.4,286.5 L577.9,284.9 L580.5,283.4 L583.1,282.1 L585.8,281.0 L588.5,280.0 L591.3,279.1 L594.1,278.3 L597.0,277.6 L599.9,276.9 L602.8,276.4 L605.8,275.9 L608.8,275.4 L611.8,274.9 L614.8,274.5 L617.8,274.0 L620.8,273.6 L623.9,273.1 L626.9,272.6 L629.9,272.0 L632.9,271.4 L635.9,270.7 L638.9,269.9 L641.8,269.1 L644.7,268.4 L647.7,267.6 L650.6,266.9 L653.5,266.3 L656.4,265.8 L659.4,265.4 L662.3,265.2 L665.2,265.1 L668.2,265.2 L671.1,265.5 L674.0,265.9 L677.0,266.4 L679.9,267.1 L682.7,267.9 L685.6,268.8 L688.4,269.8 L691.3,271.0 L694.0,272.2 L696.8,273.5 L699.5,274.9 L702.2,276.4 L704.8,278.0 L707.4,279.6 L709.9,281.3 L712.3,283.1 L714.8,284.9 L717.1,286.7 L719.4,288.6 L721.7,290.5 L723.9,292.5 L726.0,294.5 L728.1,296.6 L730.2,298.6 L732.3,300.8 L734.3,302.9 L736.3,305.1 L738.2,307.4 L740.2,309.7 L742.1,312.0 L744.0,314.3 L745.9,316.7 L747.7,319.0 L749.6,321.5 L751.5,323.9 L753.4,326.4 L755.3,328.8 L757.2,331.3 L759.1,333.7 L761.0,336.0 L763.0,338.3 L765.1,340.6 L767.1,342.8 L769.3,344.9 L771.5,346.8 L773.7,348.7 L776.0,350.4 L778.5,352.0 L780.9,353.5 L783.5,354.8 L786.2,355.8 L789.0,356.8 L791.8,357.6 L794.7,358.3 L797.7,359.1 L800.6,360.1 L803.5,361.2 L806.3,362.5 L809.1,363.9 L811.7,365.6 L814.2,367.3 L816.6,369.1 L818.8,371.1 L820.8,373.2 L822.8,375.3 L824.6,377.5 L826.4,379.8 L828.0,382.2 L829.6,384.6 L831.1,387.1 L832.6,389.6 L834.0,392.2 L835.4,394.8 L836.8,397.5 L838.2,400.1 L839.6,402.8 L841.1,405.5 L842.5,408.2 L844.0,410.9 L845.6,413.6 L847.2,416.2 L848.9,418.9 L850.7,421.5 L852.6,424.0 L854.5,426.5 L856.6,428.9 L858.7,431.3 L860.8,433.5 L863.1,435.6 L865.4,437.6 L867.8,439.4 L870.2,441.0 L872.7,442.5 L875.3,443.9 L877.9,445.0 L880.6,445.9 L883.3,446.5 L886.0,447.0 L888.8,447.1 L891.6,447.1 L894.5,446.7 L897.4,446.2 L900.2,445.4 L903.1,444.4 L905.9,443.2 L908.7,441.9 L911.4,440.4 L914.1,438.7 L916.7,436.9 L919.1,435.0 L921.5,433.0 L923.8,430.8 L925.9,428.6 L927.9,426.3 L929.8,424.0 L931.7,421.6 L933.5,419.2 L935.2,416.8 L937.0,414.4 L938.7,412.0 L940.5,409.6 L942.3,407.3 L944.1,405.0 L946.0,402.8 L947.5,401.2"/>
<path stroke="#231f20" d="M299.3,458.7 L302.1,458.9 L305.0,459.3 L307.8,459.8 L310.7,460.3 L313.5,460.9 L316.4,461.5 L319.3,462.1 L322.3,462.5 L325.2,462.8 L328.1,462.9 L331.1,462.9 L334.0,462.7 L337.0,462.5 L340.0,462.3 L343.0,462.2 L346.0,462.4 L349.0,462.7 L352.0,463.1 L355.0,463.5 L358.0,464.0 L361.0,464.4 L364.1,464.8 L367.1,465.0 L370.1,465.0 L373.2,464.9 L376.2,464.8 L379.3,464.6 L382.3,464.6 L385.3,464.6 L388.4,464.7 L391.4,464.8 L394.4,464.9 L397.4,465.0 L400.4,464.9 L403.5,464.8 L406.5,464.6 L409.5,464.5 L412.5,464.4 L415.4,464.3 L418.4,464.3 L421.4,464.3 L424.3,464.3 L427.3,464.2 L430.2,464.1 L433.1,463.8 L436.0,463.5 L438.9,463.0 L441.8,462.4 L444.7,461.6 L447.5,460.8 L450.3,459.9 L453.1,459.0 L455.9,458.0 L458.7,457.0 L461.5,455.9 L464.2,454.8 L466.9,453.6 L469.6,452.4 L472.3,451.1 L475.0,449.7 L477.6,448.3 L480.2,446.9 L482.8,445.4 L485.3,443.8 L487.8,442.2 L490.3,440.5 L492.8,438.8 L495.3,437.0 L497.7,435.1 L500.1,433.3 L502.4,431.3 L504.8,429.4 L507.1,427.4 L509.4,425.3 L511.7,423.3 L514.0,421.2 L516.2,419.2 L518.4,417.1 L520.6,415.0 L522.8,412.9 L525.0,410.9 L527.2,408.8 L529.3,406.8 L531.5,404.7 L533.6,402.7 L535.7,400.8 L537.8,398.8 L539.9,396.9 L542.0,394.9 L544.0,392.9 L546.0,390.8 L548.0,388.6 L549.9,386.4 L551.8,384.0 L553.7,381.5 L555.6,379.0 L557.6,376.5 L559.5,374.1 L561.5,371.7 L563.6,369.4 L565.7,367.2 L568.0,365.3 L570.3,363.5 L572.8,361.8 L575.3,360.3 L577.9,358.9 L580.5,357.6 L583.2,356.4 L585.9,355.3 L588.6,354.2 L591.4,353.2 L594.2,352.2 L597.0,351.3 L599.8,350.5 L602.7,349.7 L605.5,349.0 L608.4,348.3 L611.4,347.6 L614.3,347.0 L617.2,346.4 L620.2,345.8 L623.2,345.3 L626.2,344.7 L629.2,344.2 L632.2,343.7 L635.2,343.2 L638.2,342.7 L641.2,342.2 L644.2,341.7 L647.2,341.3 L650.3,340.7 L653.3,340.2 L656.3,339.7 L659.3,339.3 L662.2,338.8 L665.2,338.5 L668.2,338.3 L671.1,338.2 L674.0,338.2 L676.9,338.5 L679.8,338.9 L682.6,339.5 L685.4,340.3 L688.2,341.4 L690.9,342.7 L693.7,344.2 L696.3,345.7 L698.9,347.4 L701.5,349.1 L704.1,350.8 L706.5,352.5 L709.0,354.3 L711.4,356.1 L713.8,357.9 L716.1,359.7 L718.4,361.6 L720.7,363.5 L723.0,365.4 L725.2,367.4 L727.4,369.4 L729.6,371.4 L731.7,373.5 L733.9,375.6 L736.0,377.7 L738.1,379.9 L740.2,382.0 L742.3,384.2 L744.4,386.4 L746.5,388.6 L748.7,390.8 L750.8,392.9 L753.0,395.0 L755.2,397.0 L757.5,399.0 L759.9,400.9 L762.3,402.7 L764.7,404.3 L767.3,405.9 L769.9,407.2 L772.7,408.3 L775.5,409.0 L778.4,409.5 L781.4,409.7 L784.5,409.6 L787.5,409.4 L790.6,408.9 L793.7,408.5 L796.8,408.1 L799.9,408.0 L802.8,408.3 L805.7,409.0 L808.5,410.0 L811.2,411.3 L813.7,412.8 L816.1,414.5 L818.3,416.3 L820.5,418.3 L822.5,420.4 L824.4,422.6 L826.2,424.9 L827.9,427.3 L829.6,429.7 L831.3,432.3 L832.9,434.8 L834.5,437.4 L836.1,440.0 L837.7,442.6 L839.4,445.2 L841.1,447.8 L842.8,450.3 L844.6,452.8 L846.5,455.3 L848.5,457.7 L850.6,459.9 L852.8,462.1 L855.1,464.2 L857.5,466.1 L860.0,468.0 L862.5,469.6 L865.1,471.1 L867.8,472.4 L870.5,473.6 L873.2,474.5 L876.0,475.2 L878.8,475.7 L881.6,475.9 L884.4,475.9 L887.3,475.6 L890.1,475.1 L892.9,474.4 L895.7,473.5 L898.5,472.4 L901.3,471.1 L904.0,469.6 L906.7,468.1 L909.3,466.3 L911.8,464.5 L914.3,462.6 L916.7,460.6 L919.1,458.5 L921.3,456.4 L923.5,454.2 L925.5,452.0 L927.5,449.8 L929.4,447.6 L931.3,445.4 L933.1,443.1 L934.9,440.9 L936.7,438.6 L938.5,436.3 L940.4,434.0 L942.2,431.6 L944.2,429.3 L946.2,426.9 L947.5,425.4"/>
</g>
<text x="238.64" y="997" font-size="36" letter-spacing="-0.557">1600</text>
<text x="414.04" y="997" font-size="36" letter-spacing="-0.224">1500</text>
<text x="590.44" y="997" font-size="36" letter-spacing="-0.557">1400</text>
<text x="766.54" y="997" font-size="36" letter-spacing="-0.457">1300</text>
<text x="942.14" y="997" font-size="36" letter-spacing="-0.457">1200</text>
<text x="1119.14" y="997" font-size="36" letter-spacing="-0.657">1100</text>
<text x="1294.74" y="997" font-size="36" letter-spacing="-0.290">1000</text>
<text x="1463.43" y="997" font-size="36" letter-spacing="-0.577">900</text>
<text x="1638.46" y="997" font-size="36" letter-spacing="0.261">800</text>
<text x="274.78" y="627" font-size="32" letter-spacing="-0.799">1600</text>
<text x="463.38" y="627" font-size="32" letter-spacing="-0.666">1500</text>
<text x="646.08" y="627" font-size="32" letter-spacing="-0.932">1400</text>
<text x="834.78" y="627" font-size="32" letter-spacing="-0.899">1300</text>
<text transform="translate(233.2,970.2) rotate(-90)" font-size="36" letter-spacing="0.9">0.5</text>
<text transform="translate(233.2,819.2) rotate(-90)" font-size="36" letter-spacing="0.9">0.6</text>
<text transform="translate(233.2,668.3) rotate(-90)" font-size="36" letter-spacing="0.9">0.7</text>
<text transform="translate(233.2,517.4) rotate(-90)" font-size="36" letter-spacing="0.9">0.8</text>
<text transform="translate(233.2,366.4) rotate(-90)" font-size="36" letter-spacing="0.9">0.9</text>
<text transform="translate(233.2,217.4) rotate(-90)" font-size="36">1.0</text>
<text transform="translate(174.3,715.7) rotate(-90)" font-size="39.5" letter-spacing="-0.008">Absorbance Units</text>
<text font-size="39.5"><tspan x="810.09" y="1057" letter-spacing="0.130">Wavenumber/cm</tspan><tspan x="1150.98" y="1045" font-size="27">-</tspan><tspan x="1162.83" y="1045" font-size="27">1</tspan></text>
<text font-size="44" y="167.9"><tspan x="297.78" letter-spacing="1.161">BPSG</tspan> <tspan x="434.95" letter-spacing="0.157">layers</tspan> <tspan x="583.52" letter-spacing="0.675">(d~400nm)</tspan> <tspan x="859.07" letter-spacing="0.259">on</tspan> <tspan x="929.10" letter-spacing="0.123">Silicon</tspan></text>
<text font-size="44"><tspan x="1433.30" y="477.9" letter-spacing="1.592">SiO</tspan><tspan x="1510.84" y="488.6" font-size="29.5">2</tspan></text>
<text x="546.68" y="851.2" font-size="44" letter-spacing="0.214">Boron</text>
<text x="639.68" y="910.2" font-size="44" letter-spacing="0.235">Phosphorous</text>
<line x1="1425.3" y1="436.0" x2="1235.2" y2="264.4" stroke="#141213" stroke-width="3.7"/><polygon points="1220.5,251.1 1241.1,260.8 1232.3,270.6" fill="#141213"/>
<line x1="1501.2" y1="493.8" x2="1622.3" y2="737.4" stroke="#141213" stroke-width="3.7"/><polygon points="1631.1,755.1 1615.5,738.5 1627.3,732.6" fill="#141213"/>
<line x1="604.0" y1="821.6" x2="604.0" y2="767.1" stroke="#141213" stroke-width="3.7"/><polygon points="604.0,748.3 610.5,769.1 597.5,769.1" fill="#141213"/>
<line x1="753.6" y1="877.8" x2="753.6" y2="823.4" stroke="#141213" stroke-width="3.7"/><polygon points="753.6,804.3 760.2,825.4 747.0,825.4" fill="#141213"/>
<line x1="624.0" y1="642.4" x2="646.5" y2="489.5" stroke="#141213" stroke-width="3.7"/><polygon points="649.3,470.2 652.6,492.4 639.7,490.5" fill="#141213"/>
<line x1="772.2" y1="688.5" x2="787.7" y2="566.0" stroke="#141213" stroke-width="3.7"/><polygon points="790.2,546.7 793.9,568.8 781.0,567.2" fill="#141213"/>
</svg></body></html>
